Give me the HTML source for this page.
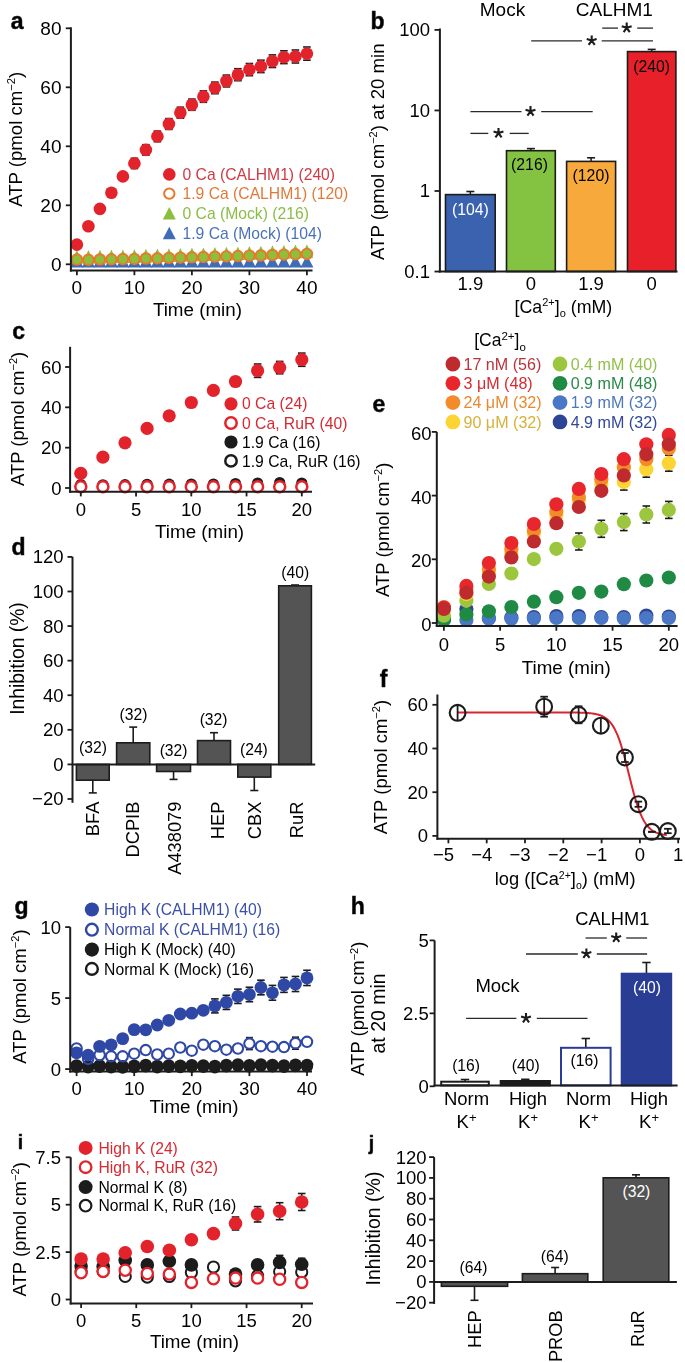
<!DOCTYPE html>
<html><head><meta charset="utf-8"><style>
html,body{margin:0;padding:0;background:#fff;}
svg{display:block;}
text{font-family:"Liberation Sans",sans-serif;}
</style></head><body>
<svg width="685" height="1362" viewBox="0 0 685 1362">
<rect width="685" height="1362" fill="#fff"/>
<g opacity="0.999">
<g id="pa">
<text x="10.8" y="28.8" font-size="23" font-weight="bold" stroke="#1c1c1c" stroke-width="0.5">a</text>
<path d="M70.4 267.4L83.4 267.4L76.9 254.9Z" fill="#3f6cb7"/>
<path d="M81.9 267.4L94.9 267.4L88.4 254.9Z" fill="#3f6cb7"/>
<path d="M93.4 267.4L106.4 267.4L99.9 254.9Z" fill="#3f6cb7"/>
<path d="M104.9 267.4L117.9 267.4L111.4 254.9Z" fill="#3f6cb7"/>
<path d="M116.4 267.4L129.4 267.4L122.9 254.9Z" fill="#3f6cb7"/>
<path d="M127.9 267.4L140.9 267.4L134.4 254.9Z" fill="#3f6cb7"/>
<path d="M139.4 267.4L152.4 267.4L145.9 254.9Z" fill="#3f6cb7"/>
<path d="M150.9 267.4L163.9 267.4L157.4 254.9Z" fill="#3f6cb7"/>
<path d="M162.4 267.4L175.4 267.4L168.9 254.9Z" fill="#3f6cb7"/>
<path d="M173.9 267.4L186.9 267.4L180.4 254.9Z" fill="#3f6cb7"/>
<path d="M185.4 267.4L198.4 267.4L191.9 254.9Z" fill="#3f6cb7"/>
<path d="M196.9 267.4L209.9 267.4L203.4 254.9Z" fill="#3f6cb7"/>
<path d="M208.4 267.4L221.4 267.4L214.9 254.9Z" fill="#3f6cb7"/>
<path d="M219.9 267.4L232.9 267.4L226.4 254.9Z" fill="#3f6cb7"/>
<path d="M231.4 267.4L244.4 267.4L237.9 254.9Z" fill="#3f6cb7"/>
<path d="M242.9 267.4L255.9 267.4L249.4 254.9Z" fill="#3f6cb7"/>
<path d="M254.4 267.4L267.4 267.4L260.9 254.9Z" fill="#3f6cb7"/>
<path d="M265.9 267.4L278.9 267.4L272.4 254.9Z" fill="#3f6cb7"/>
<path d="M277.4 267.4L290.4 267.4L283.9 254.9Z" fill="#3f6cb7"/>
<path d="M288.9 267.4L301.9 267.4L295.4 254.9Z" fill="#3f6cb7"/>
<path d="M300.4 267.4L313.4 267.4L306.9 254.9Z" fill="#3f6cb7"/>
<path d="M70.65 263.6L83.15 263.6L76.9 249.9Z" fill="#8dbf3b"/>
<path d="M82.15 263.8L94.65 263.8L88.4 250.1Z" fill="#8dbf3b"/>
<path d="M93.65 263.5L106.15 263.5L99.9 249.8Z" fill="#8dbf3b"/>
<path d="M105.15 263.3L117.65 263.3L111.4 249.6Z" fill="#8dbf3b"/>
<path d="M116.65 263.1L129.15 263.1L122.9 249.4Z" fill="#8dbf3b"/>
<path d="M128.15 262.9L140.65 262.9L134.4 249.2Z" fill="#8dbf3b"/>
<path d="M139.65 262.5L152.15 262.5L145.9 248.8Z" fill="#8dbf3b"/>
<path d="M151.15 262.3L163.65 262.3L157.4 248.6Z" fill="#8dbf3b"/>
<path d="M162.65 261.9L175.15 261.9L168.9 248.2Z" fill="#8dbf3b"/>
<path d="M174.15 261.7L186.65 261.7L180.4 248Z" fill="#8dbf3b"/>
<path d="M185.65 261.3L198.15 261.3L191.9 247.6Z" fill="#8dbf3b"/>
<path d="M197.15 261.1L209.65 261.1L203.4 247.4Z" fill="#8dbf3b"/>
<path d="M208.65 260.7L221.15 260.7L214.9 247Z" fill="#8dbf3b"/>
<path d="M220.15 260.4L232.65 260.4L226.4 246.7Z" fill="#8dbf3b"/>
<path d="M231.65 260.1L244.15 260.1L237.9 246.4Z" fill="#8dbf3b"/>
<path d="M243.15 259.7L255.65 259.7L249.4 246Z" fill="#8dbf3b"/>
<path d="M254.65 259.5L267.15 259.5L260.9 245.8Z" fill="#8dbf3b"/>
<path d="M266.15 259L278.65 259L272.4 245.3Z" fill="#8dbf3b"/>
<path d="M277.65 258.7L290.15 258.7L283.9 245Z" fill="#8dbf3b"/>
<path d="M289.15 258.3L301.65 258.3L295.4 244.6Z" fill="#8dbf3b"/>
<path d="M300.65 257.9L313.15 257.9L306.9 244.2Z" fill="#8dbf3b"/>
<circle cx="76.9" cy="259.6" r="5.3" fill="#8dbf3b" stroke="#e8782c" stroke-width="1.9"/>
<circle cx="88.4" cy="259.8" r="5.3" fill="#8dbf3b" stroke="#e8782c" stroke-width="1.9"/>
<circle cx="99.9" cy="259.5" r="5.3" fill="#8dbf3b" stroke="#e8782c" stroke-width="1.9"/>
<circle cx="111.4" cy="259.3" r="5.3" fill="#8dbf3b" stroke="#e8782c" stroke-width="1.9"/>
<circle cx="122.9" cy="259.1" r="5.3" fill="#8dbf3b" stroke="#e8782c" stroke-width="1.9"/>
<circle cx="134.4" cy="258.9" r="5.3" fill="#8dbf3b" stroke="#e8782c" stroke-width="1.9"/>
<circle cx="145.9" cy="258.5" r="5.3" fill="#8dbf3b" stroke="#e8782c" stroke-width="1.9"/>
<circle cx="157.4" cy="258.3" r="5.3" fill="#8dbf3b" stroke="#e8782c" stroke-width="1.9"/>
<circle cx="168.9" cy="257.9" r="5.3" fill="#8dbf3b" stroke="#e8782c" stroke-width="1.9"/>
<circle cx="180.4" cy="257.7" r="5.3" fill="#8dbf3b" stroke="#e8782c" stroke-width="1.9"/>
<circle cx="191.9" cy="257.3" r="5.3" fill="#8dbf3b" stroke="#e8782c" stroke-width="1.9"/>
<circle cx="203.4" cy="257.1" r="5.3" fill="#8dbf3b" stroke="#e8782c" stroke-width="1.9"/>
<circle cx="214.9" cy="256.7" r="5.3" fill="#8dbf3b" stroke="#e8782c" stroke-width="1.9"/>
<circle cx="226.4" cy="256.4" r="5.3" fill="#8dbf3b" stroke="#e8782c" stroke-width="1.9"/>
<circle cx="237.9" cy="256.1" r="5.3" fill="#8dbf3b" stroke="#e8782c" stroke-width="1.9"/>
<circle cx="249.4" cy="255.7" r="5.3" fill="#8dbf3b" stroke="#e8782c" stroke-width="1.9"/>
<circle cx="260.9" cy="255.5" r="5.3" fill="#8dbf3b" stroke="#e8782c" stroke-width="1.9"/>
<circle cx="272.4" cy="255" r="5.3" fill="#8dbf3b" stroke="#e8782c" stroke-width="1.9"/>
<circle cx="283.9" cy="254.7" r="5.3" fill="#8dbf3b" stroke="#e8782c" stroke-width="1.9"/>
<circle cx="295.4" cy="254.3" r="5.3" fill="#8dbf3b" stroke="#e8782c" stroke-width="1.9"/>
<circle cx="306.9" cy="253.9" r="5.3" fill="#8dbf3b" stroke="#e8782c" stroke-width="1.9"/>
<line x1="130.6" y1="158.3" x2="138.2" y2="158.3" stroke="#1c1c1c" stroke-width="1.6"/>
<line x1="130.6" y1="168.5" x2="138.2" y2="168.5" stroke="#1c1c1c" stroke-width="1.6"/>
<line x1="142.1" y1="144.7" x2="149.7" y2="144.7" stroke="#1c1c1c" stroke-width="1.6"/>
<line x1="142.1" y1="155.1" x2="149.7" y2="155.1" stroke="#1c1c1c" stroke-width="1.6"/>
<line x1="153.6" y1="131.1" x2="161.2" y2="131.1" stroke="#1c1c1c" stroke-width="1.6"/>
<line x1="153.6" y1="141.7" x2="161.2" y2="141.7" stroke="#1c1c1c" stroke-width="1.6"/>
<line x1="165.1" y1="118.6" x2="172.7" y2="118.6" stroke="#1c1c1c" stroke-width="1.6"/>
<line x1="165.1" y1="129.4" x2="172.7" y2="129.4" stroke="#1c1c1c" stroke-width="1.6"/>
<line x1="176.6" y1="107.2" x2="184.2" y2="107.2" stroke="#1c1c1c" stroke-width="1.6"/>
<line x1="176.6" y1="118.2" x2="184.2" y2="118.2" stroke="#1c1c1c" stroke-width="1.6"/>
<line x1="188.1" y1="99.1" x2="195.7" y2="99.1" stroke="#1c1c1c" stroke-width="1.6"/>
<line x1="188.1" y1="110.3" x2="195.7" y2="110.3" stroke="#1c1c1c" stroke-width="1.6"/>
<line x1="199.6" y1="90.9" x2="207.2" y2="90.9" stroke="#1c1c1c" stroke-width="1.6"/>
<line x1="199.6" y1="102.3" x2="207.2" y2="102.3" stroke="#1c1c1c" stroke-width="1.6"/>
<line x1="211.1" y1="82.1" x2="218.7" y2="82.1" stroke="#1c1c1c" stroke-width="1.6"/>
<line x1="211.1" y1="93.7" x2="218.7" y2="93.7" stroke="#1c1c1c" stroke-width="1.6"/>
<line x1="222.6" y1="75.1" x2="230.2" y2="75.1" stroke="#1c1c1c" stroke-width="1.6"/>
<line x1="222.6" y1="86.9" x2="230.2" y2="86.9" stroke="#1c1c1c" stroke-width="1.6"/>
<line x1="234.1" y1="68.7" x2="241.7" y2="68.7" stroke="#1c1c1c" stroke-width="1.6"/>
<line x1="234.1" y1="80.7" x2="241.7" y2="80.7" stroke="#1c1c1c" stroke-width="1.6"/>
<line x1="245.6" y1="63.5" x2="253.2" y2="63.5" stroke="#1c1c1c" stroke-width="1.6"/>
<line x1="245.6" y1="75.7" x2="253.2" y2="75.7" stroke="#1c1c1c" stroke-width="1.6"/>
<line x1="257.1" y1="60.2" x2="264.7" y2="60.2" stroke="#1c1c1c" stroke-width="1.6"/>
<line x1="257.1" y1="72.6" x2="264.7" y2="72.6" stroke="#1c1c1c" stroke-width="1.6"/>
<line x1="268.6" y1="54.9" x2="276.2" y2="54.9" stroke="#1c1c1c" stroke-width="1.6"/>
<line x1="268.6" y1="67.5" x2="276.2" y2="67.5" stroke="#1c1c1c" stroke-width="1.6"/>
<line x1="280.1" y1="50.8" x2="287.7" y2="50.8" stroke="#1c1c1c" stroke-width="1.6"/>
<line x1="280.1" y1="63.6" x2="287.7" y2="63.6" stroke="#1c1c1c" stroke-width="1.6"/>
<line x1="291.6" y1="50" x2="299.2" y2="50" stroke="#1c1c1c" stroke-width="1.6"/>
<line x1="291.6" y1="63" x2="299.2" y2="63" stroke="#1c1c1c" stroke-width="1.6"/>
<line x1="303.1" y1="47" x2="310.7" y2="47" stroke="#1c1c1c" stroke-width="1.6"/>
<line x1="303.1" y1="60.2" x2="310.7" y2="60.2" stroke="#1c1c1c" stroke-width="1.6"/>
<circle cx="76.9" cy="244.6" r="6.3" fill="#e2232b"/>
<circle cx="88.4" cy="226.3" r="6.3" fill="#e2232b"/>
<circle cx="99.9" cy="208.9" r="6.3" fill="#e2232b"/>
<circle cx="111.4" cy="192.8" r="6.3" fill="#e2232b"/>
<circle cx="122.9" cy="176.4" r="6.3" fill="#e2232b"/>
<circle cx="134.4" cy="163.4" r="6.3" fill="#e2232b"/>
<circle cx="145.9" cy="149.9" r="6.3" fill="#e2232b"/>
<circle cx="157.4" cy="136.4" r="6.3" fill="#e2232b"/>
<circle cx="168.9" cy="124" r="6.3" fill="#e2232b"/>
<circle cx="180.4" cy="112.7" r="6.3" fill="#e2232b"/>
<circle cx="191.9" cy="104.7" r="6.3" fill="#e2232b"/>
<circle cx="203.4" cy="96.6" r="6.3" fill="#e2232b"/>
<circle cx="214.9" cy="87.9" r="6.3" fill="#e2232b"/>
<circle cx="226.4" cy="81" r="6.3" fill="#e2232b"/>
<circle cx="237.9" cy="74.7" r="6.3" fill="#e2232b"/>
<circle cx="249.4" cy="69.6" r="6.3" fill="#e2232b"/>
<circle cx="260.9" cy="66.4" r="6.3" fill="#e2232b"/>
<circle cx="272.4" cy="61.2" r="6.3" fill="#e2232b"/>
<circle cx="283.9" cy="57.2" r="6.3" fill="#e2232b"/>
<circle cx="295.4" cy="56.5" r="6.3" fill="#e2232b"/>
<circle cx="306.9" cy="53.6" r="6.3" fill="#e2232b"/>
<line x1="70.9" y1="27.3" x2="70.9" y2="271.6" stroke="#1c1c1c" stroke-width="2"/>
<line x1="69.9" y1="270.6" x2="312.5" y2="270.6" stroke="#1c1c1c" stroke-width="2"/>
<line x1="65.8" y1="264.3" x2="70.9" y2="264.3" stroke="#1c1c1c" stroke-width="1.8"/>
<text x="61.5" y="271" font-size="19" text-anchor="end">0</text>
<line x1="65.8" y1="205.3" x2="70.9" y2="205.3" stroke="#1c1c1c" stroke-width="1.8"/>
<text x="61.5" y="212" font-size="19" text-anchor="end">20</text>
<line x1="65.8" y1="146.3" x2="70.9" y2="146.3" stroke="#1c1c1c" stroke-width="1.8"/>
<text x="61.5" y="153" font-size="19" text-anchor="end">40</text>
<line x1="65.8" y1="87.3" x2="70.9" y2="87.3" stroke="#1c1c1c" stroke-width="1.8"/>
<text x="61.5" y="94" font-size="19" text-anchor="end">60</text>
<line x1="65.8" y1="28.3" x2="70.9" y2="28.3" stroke="#1c1c1c" stroke-width="1.8"/>
<text x="61.5" y="35" font-size="19" text-anchor="end">80</text>
<line x1="76.9" y1="270.6" x2="76.9" y2="275.2" stroke="#1c1c1c" stroke-width="1.8"/>
<text x="76.9" y="293.5" font-size="19" text-anchor="middle">0</text>
<line x1="134.4" y1="270.6" x2="134.4" y2="275.2" stroke="#1c1c1c" stroke-width="1.8"/>
<text x="134.4" y="293.5" font-size="19" text-anchor="middle">10</text>
<line x1="191.9" y1="270.6" x2="191.9" y2="275.2" stroke="#1c1c1c" stroke-width="1.8"/>
<text x="191.9" y="293.5" font-size="19" text-anchor="middle">20</text>
<line x1="249.4" y1="270.6" x2="249.4" y2="275.2" stroke="#1c1c1c" stroke-width="1.8"/>
<text x="249.4" y="293.5" font-size="19" text-anchor="middle">30</text>
<line x1="306.9" y1="270.6" x2="306.9" y2="275.2" stroke="#1c1c1c" stroke-width="1.8"/>
<text x="306.9" y="293.5" font-size="19" text-anchor="middle">40</text>
<text x="197.4" y="316.2" font-size="18.8" text-anchor="middle">Time (min)</text>
<text x="22.2" y="139.3" font-size="18.6" text-anchor="middle" transform="rotate(-90 22.2 139.3)">ATP (pmol cm<tspan font-size="11.16" dy="-6.7">−2</tspan><tspan dy="6.7">)</tspan></text>
<circle cx="169.3" cy="174.4" r="6.3" fill="#e2232b"/>
<text x="182.5" y="180" font-size="15.7" fill="#d03a45">0 Ca (CALHM1) (240)</text>
<circle cx="169.3" cy="193.6" r="5.2" fill="#fff" stroke="#e8782c" stroke-width="2"/>
<text x="182.5" y="199.2" font-size="15.7" fill="#e07a3a">1.9 Ca (CALHM1) (120)</text>
<path d="M162.8 219.4L175.8 219.4L169.3 206.9Z" fill="#8dbf3b"/>
<text x="182.5" y="219" font-size="15.7" fill="#8cbc46">0 Ca (Mock) (216)</text>
<path d="M162.8 239.2L175.8 239.2L169.3 226.7Z" fill="#3f6cb7"/>
<text x="182.5" y="238.8" font-size="15.7" fill="#4a72b8">1.9 Ca (Mock) (104)</text>
</g>
<g id="pb">
<text x="370.5" y="28.8" font-size="23" font-weight="bold" stroke="#1c1c1c" stroke-width="0.5">b</text>
<line x1="470.35" y1="191.5" x2="470.35" y2="194.6" stroke="#1c1c1c" stroke-width="1.5"/>
<line x1="466.35" y1="191.5" x2="474.35" y2="191.5" stroke="#1c1c1c" stroke-width="1.6"/>
<rect x="445.5" y="194.6" width="49.7" height="76.9" fill="#3b62ae" stroke="#1c1c1c" stroke-width="1.6"/>
<line x1="530.9" y1="148.6" x2="530.9" y2="150.7" stroke="#1c1c1c" stroke-width="1.5"/>
<line x1="526.9" y1="148.6" x2="534.9" y2="148.6" stroke="#1c1c1c" stroke-width="1.6"/>
<rect x="506.5" y="150.7" width="48.8" height="120.8" fill="#84c341" stroke="#1c1c1c" stroke-width="1.6"/>
<line x1="591.1" y1="157.8" x2="591.1" y2="161.4" stroke="#1c1c1c" stroke-width="1.5"/>
<line x1="587.1" y1="157.8" x2="595.1" y2="157.8" stroke="#1c1c1c" stroke-width="1.6"/>
<rect x="566.6" y="161.4" width="49" height="110.1" fill="#f7a93b" stroke="#1c1c1c" stroke-width="1.6"/>
<line x1="651.7" y1="49.4" x2="651.7" y2="51.6" stroke="#1c1c1c" stroke-width="1.5"/>
<line x1="647.7" y1="49.4" x2="655.7" y2="49.4" stroke="#1c1c1c" stroke-width="1.6"/>
<rect x="627.5" y="51.6" width="48.4" height="219.9" fill="#e8202a" stroke="#1c1c1c" stroke-width="1.6"/>
<text x="470.4" y="214.9" font-size="15.8" text-anchor="middle" fill="#fff">(104)</text>
<text x="529.5" y="169.8" font-size="15.8" text-anchor="middle">(216)</text>
<text x="591" y="181" font-size="15.8" text-anchor="middle">(120)</text>
<text x="651.6" y="71.5" font-size="15.8" text-anchor="middle">(240)</text>
<line x1="439.9" y1="28.5" x2="439.9" y2="272.5" stroke="#1c1c1c" stroke-width="2"/>
<line x1="438.9" y1="271.5" x2="677.5" y2="271.5" stroke="#1c1c1c" stroke-width="2"/>
<line x1="434.5" y1="29.9" x2="439.9" y2="29.9" stroke="#1c1c1c" stroke-width="1.8"/>
<text x="430" y="36.3" font-size="18.5" text-anchor="end">100</text>
<line x1="434.5" y1="110.45" x2="439.9" y2="110.45" stroke="#1c1c1c" stroke-width="1.8"/>
<text x="430" y="116.85" font-size="18.5" text-anchor="end">10</text>
<line x1="434.5" y1="191" x2="439.9" y2="191" stroke="#1c1c1c" stroke-width="1.8"/>
<text x="430" y="197.4" font-size="18.5" text-anchor="end">1</text>
<line x1="434.5" y1="271.55" x2="439.9" y2="271.55" stroke="#1c1c1c" stroke-width="1.8"/>
<text x="430" y="277.95" font-size="18.5" text-anchor="end">0.1</text>
<text x="470.4" y="290.4" font-size="18.5" text-anchor="middle">1.9</text>
<text x="530.9" y="290.4" font-size="18.5" text-anchor="middle">0</text>
<text x="591" y="290.4" font-size="18.5" text-anchor="middle">1.9</text>
<text x="651.6" y="290.4" font-size="18.5" text-anchor="middle">0</text>
<text x="514.5" y="312.7" font-size="17.8">[Ca<tspan font-size="11" dy="-7">2+</tspan><tspan dy="7">]</tspan><tspan font-size="11" dy="4">o</tspan><tspan dy="-4"> (mM)</tspan></text>
<text x="383.9" y="151.7" font-size="18.6" text-anchor="middle" transform="rotate(-90 383.9 151.7)">ATP (pmol cm<tspan font-size="11" dy="-6.5">−2</tspan><tspan dy="6.5">) at 20 min</tspan></text>
<text x="502.5" y="16.1" font-size="19" text-anchor="middle">Mock</text>
<text x="614.3" y="16.1" font-size="19" text-anchor="middle">CALHM1</text>
<line x1="602.2" y1="28.1" x2="618" y2="28.1" stroke="#2a2a2a" stroke-width="1.3"/>
<line x1="637.2" y1="28.1" x2="653" y2="28.1" stroke="#2a2a2a" stroke-width="1.3"/>
<path d="M626.7 27.8L626.7 22.6M626.7 27.8L631.65 26.19M626.7 27.8L629.76 32.01M626.7 27.8L623.64 32.01M626.7 27.8L621.75 26.19" stroke="#1c1c1c" stroke-width="2.1" fill="none" stroke-linecap="butt"/>
<line x1="531.2" y1="40.9" x2="582" y2="40.9" stroke="#2a2a2a" stroke-width="1.3"/>
<line x1="601.7" y1="40.9" x2="653" y2="40.9" stroke="#2a2a2a" stroke-width="1.3"/>
<path d="M591.7 40.6L591.7 35.4M591.7 40.6L596.65 38.99M591.7 40.6L594.76 44.81M591.7 40.6L588.64 44.81M591.7 40.6L586.75 38.99" stroke="#1c1c1c" stroke-width="2.1" fill="none" stroke-linecap="butt"/>
<line x1="470.4" y1="111.6" x2="521.5" y2="111.6" stroke="#2a2a2a" stroke-width="1.3"/>
<line x1="541.2" y1="111.6" x2="592.7" y2="111.6" stroke="#2a2a2a" stroke-width="1.3"/>
<path d="M530.5 111.3L530.5 106.1M530.5 111.3L535.45 109.69M530.5 111.3L533.56 115.51M530.5 111.3L527.44 115.51M530.5 111.3L525.55 109.69" stroke="#1c1c1c" stroke-width="2.1" fill="none" stroke-linecap="butt"/>
<line x1="470.4" y1="133.4" x2="488.3" y2="133.4" stroke="#2a2a2a" stroke-width="1.3"/>
<line x1="509.7" y1="133.4" x2="528.7" y2="133.4" stroke="#2a2a2a" stroke-width="1.3"/>
<path d="M498.5 133.1L498.5 127.9M498.5 133.1L503.45 131.49M498.5 133.1L501.56 137.31M498.5 133.1L495.44 137.31M498.5 133.1L493.55 131.49" stroke="#1c1c1c" stroke-width="2.1" fill="none" stroke-linecap="butt"/>
</g>
<g id="pc">
<text x="12.3" y="338.9" font-size="23" font-weight="bold" stroke="#1c1c1c" stroke-width="0.5">c</text>
<circle cx="80.8" cy="484.5" r="5.6" fill="#1c1c1c"/>
<circle cx="102.9" cy="484.8" r="5.6" fill="#1c1c1c"/>
<circle cx="125" cy="484.6" r="5.6" fill="#1c1c1c"/>
<circle cx="147.1" cy="484.3" r="5.6" fill="#1c1c1c"/>
<circle cx="169.2" cy="484.2" r="5.6" fill="#1c1c1c"/>
<circle cx="191.3" cy="484" r="5.6" fill="#1c1c1c"/>
<circle cx="213.4" cy="484" r="5.6" fill="#1c1c1c"/>
<circle cx="235.5" cy="483.5" r="5.6" fill="#1c1c1c"/>
<circle cx="257.6" cy="483" r="5.6" fill="#1c1c1c"/>
<circle cx="279.7" cy="482.5" r="5.6" fill="#1c1c1c"/>
<circle cx="301.8" cy="483" r="5.6" fill="#1c1c1c"/>
<circle cx="80.8" cy="486.7" r="5.5" fill="#fff" stroke="#e2232b" stroke-width="2.5"/>
<circle cx="102.9" cy="486.7" r="5.5" fill="#fff" stroke="#e2232b" stroke-width="2.5"/>
<circle cx="125" cy="486.7" r="5.5" fill="#fff" stroke="#e2232b" stroke-width="2.5"/>
<circle cx="147.1" cy="486.7" r="5.5" fill="#fff" stroke="#e2232b" stroke-width="2.5"/>
<circle cx="169.2" cy="486.7" r="5.5" fill="#fff" stroke="#e2232b" stroke-width="2.5"/>
<circle cx="191.3" cy="486.7" r="5.5" fill="#fff" stroke="#e2232b" stroke-width="2.5"/>
<circle cx="213.4" cy="486.7" r="5.5" fill="#fff" stroke="#e2232b" stroke-width="2.5"/>
<circle cx="235.5" cy="486.7" r="5.5" fill="#fff" stroke="#e2232b" stroke-width="2.5"/>
<circle cx="257.6" cy="486.7" r="5.5" fill="#fff" stroke="#e2232b" stroke-width="2.5"/>
<circle cx="279.7" cy="486.7" r="5.5" fill="#fff" stroke="#e2232b" stroke-width="2.5"/>
<circle cx="301.8" cy="486.7" r="5.5" fill="#fff" stroke="#e2232b" stroke-width="2.5"/>
<line x1="231.7" y1="377.5" x2="239.3" y2="377.5" stroke="#1c1c1c" stroke-width="1.6"/>
<line x1="231.7" y1="385.5" x2="239.3" y2="385.5" stroke="#1c1c1c" stroke-width="1.6"/>
<line x1="235.5" y1="377.5" x2="235.5" y2="385.5" stroke="#1c1c1c" stroke-width="1.6"/>
<line x1="253.8" y1="364" x2="261.4" y2="364" stroke="#1c1c1c" stroke-width="1.6"/>
<line x1="253.8" y1="377.4" x2="261.4" y2="377.4" stroke="#1c1c1c" stroke-width="1.6"/>
<line x1="257.6" y1="364" x2="257.6" y2="377.4" stroke="#1c1c1c" stroke-width="1.6"/>
<line x1="275.9" y1="361.4" x2="283.5" y2="361.4" stroke="#1c1c1c" stroke-width="1.6"/>
<line x1="275.9" y1="373.8" x2="283.5" y2="373.8" stroke="#1c1c1c" stroke-width="1.6"/>
<line x1="279.7" y1="361.4" x2="279.7" y2="373.8" stroke="#1c1c1c" stroke-width="1.6"/>
<line x1="298" y1="353.1" x2="305.6" y2="353.1" stroke="#1c1c1c" stroke-width="1.6"/>
<line x1="298" y1="366.3" x2="305.6" y2="366.3" stroke="#1c1c1c" stroke-width="1.6"/>
<line x1="301.8" y1="353.1" x2="301.8" y2="366.3" stroke="#1c1c1c" stroke-width="1.6"/>
<circle cx="80.8" cy="473.3" r="6.6" fill="#e2232b"/>
<circle cx="102.9" cy="457.2" r="6.6" fill="#e2232b"/>
<circle cx="125" cy="442.8" r="6.6" fill="#e2232b"/>
<circle cx="147.1" cy="428.4" r="6.6" fill="#e2232b"/>
<circle cx="169.2" cy="415.8" r="6.6" fill="#e2232b"/>
<circle cx="191.3" cy="402.5" r="6.6" fill="#e2232b"/>
<circle cx="213.4" cy="390.4" r="6.6" fill="#e2232b"/>
<circle cx="235.5" cy="381.5" r="6.6" fill="#e2232b"/>
<circle cx="257.6" cy="370.7" r="6.6" fill="#e2232b"/>
<circle cx="279.7" cy="367.6" r="6.6" fill="#e2232b"/>
<circle cx="301.8" cy="359.7" r="6.6" fill="#e2232b"/>
<line x1="70.1" y1="346.8" x2="70.1" y2="492.8" stroke="#1c1c1c" stroke-width="2"/>
<line x1="69.1" y1="491.8" x2="312" y2="491.8" stroke="#1c1c1c" stroke-width="2"/>
<line x1="65.1" y1="488" x2="70.1" y2="488" stroke="#1c1c1c" stroke-width="1.8"/>
<text x="61.5" y="494.5" font-size="18.5" text-anchor="end">0</text>
<line x1="65.1" y1="447.67" x2="70.1" y2="447.67" stroke="#1c1c1c" stroke-width="1.8"/>
<text x="61.5" y="454.17" font-size="18.5" text-anchor="end">20</text>
<line x1="65.1" y1="407.33" x2="70.1" y2="407.33" stroke="#1c1c1c" stroke-width="1.8"/>
<text x="61.5" y="413.83" font-size="18.5" text-anchor="end">40</text>
<line x1="65.1" y1="367" x2="70.1" y2="367" stroke="#1c1c1c" stroke-width="1.8"/>
<text x="61.5" y="373.5" font-size="18.5" text-anchor="end">60</text>
<line x1="80.8" y1="491.8" x2="80.8" y2="496.4" stroke="#1c1c1c" stroke-width="1.8"/>
<text x="80.8" y="516.3" font-size="18.5" text-anchor="middle">0</text>
<line x1="136.05" y1="491.8" x2="136.05" y2="496.4" stroke="#1c1c1c" stroke-width="1.8"/>
<text x="136.05" y="516.3" font-size="18.5" text-anchor="middle">5</text>
<line x1="191.3" y1="491.8" x2="191.3" y2="496.4" stroke="#1c1c1c" stroke-width="1.8"/>
<text x="191.3" y="516.3" font-size="18.5" text-anchor="middle">10</text>
<line x1="246.55" y1="491.8" x2="246.55" y2="496.4" stroke="#1c1c1c" stroke-width="1.8"/>
<text x="246.55" y="516.3" font-size="18.5" text-anchor="middle">15</text>
<line x1="301.8" y1="491.8" x2="301.8" y2="496.4" stroke="#1c1c1c" stroke-width="1.8"/>
<text x="301.8" y="516.3" font-size="18.5" text-anchor="middle">20</text>
<text x="199.6" y="537.5" font-size="18.8" text-anchor="middle">Time (min)</text>
<text x="24" y="418.9" font-size="18.5" text-anchor="middle" transform="rotate(-90 24 418.9)">ATP (pmol cm<tspan font-size="11.1" dy="-6.66">−2</tspan><tspan dy="6.66">)</tspan></text>
<circle cx="231" cy="403.8" r="6.6" fill="#e2232b"/>
<text x="242" y="409.4" font-size="15.7" fill="#d62a33">0 Ca (24)</text>
<circle cx="231" cy="423" r="5.7" fill="#fff" stroke="#e2232b" stroke-width="2.5"/>
<text x="242" y="428.6" font-size="15.7" fill="#d62a33">0 Ca, RuR (40)</text>
<circle cx="231" cy="442" r="6.6" fill="#1c1c1c"/>
<text x="242" y="447.6" font-size="15.7">1.9 Ca (16)</text>
<circle cx="231" cy="460.9" r="5.7" fill="#fff" stroke="#1c1c1c" stroke-width="2.5"/>
<text x="242" y="466.5" font-size="15.7">1.9 Ca, RuR (16)</text>
</g>
<g id="pd">
<text x="11.5" y="555.4" font-size="23" font-weight="bold" stroke="#1c1c1c" stroke-width="0.5">d</text>
<line x1="92.8" y1="780.2" x2="92.8" y2="792.9" stroke="#1c1c1c" stroke-width="1.6"/>
<line x1="88.8" y1="792.9" x2="96.8" y2="792.9" stroke="#1c1c1c" stroke-width="1.6"/>
<rect x="76.4" y="764.4" width="32.8" height="15.8" fill="#545454" stroke="#1c1c1c" stroke-width="1.6"/>
<text x="93" y="753.2" font-size="15.7" text-anchor="middle">(32)</text>
<text x="99.1" y="801.6" font-size="18.3" text-anchor="end" transform="rotate(-90 99.1 801.6)">BFA</text>
<line x1="133.2" y1="742.8" x2="133.2" y2="727.1" stroke="#1c1c1c" stroke-width="1.6"/>
<line x1="129.2" y1="727.1" x2="137.2" y2="727.1" stroke="#1c1c1c" stroke-width="1.6"/>
<rect x="116.6" y="742.8" width="33.2" height="21.6" fill="#545454" stroke="#1c1c1c" stroke-width="1.6"/>
<text x="133.5" y="719.7" font-size="15.7" text-anchor="middle">(32)</text>
<text x="139.5" y="801.6" font-size="18.3" text-anchor="end" transform="rotate(-90 139.5 801.6)">DCPIB</text>
<line x1="173.55" y1="771.5" x2="173.55" y2="779.4" stroke="#1c1c1c" stroke-width="1.6"/>
<line x1="169.55" y1="779.4" x2="177.55" y2="779.4" stroke="#1c1c1c" stroke-width="1.6"/>
<rect x="156.6" y="764.4" width="33.9" height="7.1" fill="#545454" stroke="#1c1c1c" stroke-width="1.6"/>
<text x="173.6" y="755.5" font-size="15.7" text-anchor="middle">(32)</text>
<text x="180.95" y="801.6" font-size="18.3" text-anchor="end" transform="rotate(-90 180.95 801.6)">A438079</text>
<line x1="214" y1="740.6" x2="214" y2="732.7" stroke="#1c1c1c" stroke-width="1.6"/>
<line x1="210" y1="732.7" x2="218" y2="732.7" stroke="#1c1c1c" stroke-width="1.6"/>
<rect x="197.5" y="740.6" width="33" height="23.8" fill="#545454" stroke="#1c1c1c" stroke-width="1.6"/>
<text x="213.6" y="724.8" font-size="15.7" text-anchor="middle">(32)</text>
<text x="223.6" y="801.6" font-size="18.3" text-anchor="end" transform="rotate(-90 223.6 801.6)">HEP</text>
<line x1="254.3" y1="777.1" x2="254.3" y2="790.5" stroke="#1c1c1c" stroke-width="1.6"/>
<line x1="250.3" y1="790.5" x2="258.3" y2="790.5" stroke="#1c1c1c" stroke-width="1.6"/>
<rect x="237.8" y="764.4" width="33" height="12.7" fill="#545454" stroke="#1c1c1c" stroke-width="1.6"/>
<text x="253.9" y="755.2" font-size="15.7" text-anchor="middle">(24)</text>
<text x="260.6" y="801.6" font-size="18.3" text-anchor="end" transform="rotate(-90 260.6 801.6)">CBX</text>
<line x1="295.05" y1="585.8" x2="295.05" y2="585" stroke="#1c1c1c" stroke-width="1.6"/>
<line x1="291.05" y1="585" x2="299.05" y2="585" stroke="#1c1c1c" stroke-width="1.6"/>
<rect x="278.7" y="585.8" width="32.7" height="178.6" fill="#545454" stroke="#1c1c1c" stroke-width="1.6"/>
<text x="295.3" y="578" font-size="15.7" text-anchor="middle">(40)</text>
<text x="302.85" y="801.6" font-size="18.3" text-anchor="end" transform="rotate(-90 302.85 801.6)">RuR</text>
<line x1="72.5" y1="556.9" x2="72.5" y2="802.8" stroke="#1c1c1c" stroke-width="2"/>
<line x1="72.5" y1="764.4" x2="315.2" y2="764.4" stroke="#1c1c1c" stroke-width="2"/>
<line x1="67.5" y1="798.98" x2="72.5" y2="798.98" stroke="#1c1c1c" stroke-width="1.8"/>
<text x="63.5" y="805.48" font-size="18.5" text-anchor="end">−20</text>
<line x1="67.5" y1="764.4" x2="72.5" y2="764.4" stroke="#1c1c1c" stroke-width="1.8"/>
<text x="63.5" y="770.9" font-size="18.5" text-anchor="end">0</text>
<line x1="67.5" y1="729.82" x2="72.5" y2="729.82" stroke="#1c1c1c" stroke-width="1.8"/>
<text x="63.5" y="736.32" font-size="18.5" text-anchor="end">20</text>
<line x1="67.5" y1="695.23" x2="72.5" y2="695.23" stroke="#1c1c1c" stroke-width="1.8"/>
<text x="63.5" y="701.73" font-size="18.5" text-anchor="end">40</text>
<line x1="67.5" y1="660.65" x2="72.5" y2="660.65" stroke="#1c1c1c" stroke-width="1.8"/>
<text x="63.5" y="667.15" font-size="18.5" text-anchor="end">60</text>
<line x1="67.5" y1="626.06" x2="72.5" y2="626.06" stroke="#1c1c1c" stroke-width="1.8"/>
<text x="63.5" y="632.56" font-size="18.5" text-anchor="end">80</text>
<line x1="67.5" y1="591.48" x2="72.5" y2="591.48" stroke="#1c1c1c" stroke-width="1.8"/>
<text x="63.5" y="597.98" font-size="18.5" text-anchor="end">100</text>
<line x1="67.5" y1="556.9" x2="72.5" y2="556.9" stroke="#1c1c1c" stroke-width="1.8"/>
<text x="63.5" y="563.4" font-size="18.5" text-anchor="end">120</text>
<text x="24.2" y="658.5" font-size="19.3" text-anchor="middle" transform="rotate(-90 24.2 658.5)">Inhibition (%)</text>
</g>
<g id="pe">
<text x="372.5" y="411.8" font-size="23" font-weight="bold" stroke="#1c1c1c" stroke-width="0.5">e</text>
<line x1="533.86" y1="521.3" x2="533.86" y2="526.7" stroke="#1c1c1c" stroke-width="1.5"/>
<line x1="530.06" y1="521.3" x2="537.66" y2="521.3" stroke="#1c1c1c" stroke-width="1.6"/>
<line x1="530.06" y1="526.7" x2="537.66" y2="526.7" stroke="#1c1c1c" stroke-width="1.6"/>
<line x1="533.86" y1="528.2" x2="533.86" y2="537.8" stroke="#1c1c1c" stroke-width="1.5"/>
<line x1="530.06" y1="528.2" x2="537.66" y2="528.2" stroke="#1c1c1c" stroke-width="1.6"/>
<line x1="530.06" y1="537.8" x2="537.66" y2="537.8" stroke="#1c1c1c" stroke-width="1.6"/>
<line x1="533.86" y1="539.1" x2="533.86" y2="543.9" stroke="#1c1c1c" stroke-width="1.5"/>
<line x1="530.06" y1="539.1" x2="537.66" y2="539.1" stroke="#1c1c1c" stroke-width="1.6"/>
<line x1="530.06" y1="543.9" x2="537.66" y2="543.9" stroke="#1c1c1c" stroke-width="1.6"/>
<line x1="556.35" y1="501.6" x2="556.35" y2="507" stroke="#1c1c1c" stroke-width="1.5"/>
<line x1="552.55" y1="501.6" x2="560.15" y2="501.6" stroke="#1c1c1c" stroke-width="1.6"/>
<line x1="552.55" y1="507" x2="560.15" y2="507" stroke="#1c1c1c" stroke-width="1.6"/>
<line x1="556.35" y1="510.2" x2="556.35" y2="519.8" stroke="#1c1c1c" stroke-width="1.5"/>
<line x1="552.55" y1="510.2" x2="560.15" y2="510.2" stroke="#1c1c1c" stroke-width="1.6"/>
<line x1="552.55" y1="519.8" x2="560.15" y2="519.8" stroke="#1c1c1c" stroke-width="1.6"/>
<line x1="556.35" y1="520.8" x2="556.35" y2="525.6" stroke="#1c1c1c" stroke-width="1.5"/>
<line x1="552.55" y1="520.8" x2="560.15" y2="520.8" stroke="#1c1c1c" stroke-width="1.6"/>
<line x1="552.55" y1="525.6" x2="560.15" y2="525.6" stroke="#1c1c1c" stroke-width="1.6"/>
<line x1="578.84" y1="484.4" x2="578.84" y2="493.4" stroke="#1c1c1c" stroke-width="1.5"/>
<line x1="575.04" y1="484.4" x2="582.64" y2="484.4" stroke="#1c1c1c" stroke-width="1.6"/>
<line x1="575.04" y1="493.4" x2="582.64" y2="493.4" stroke="#1c1c1c" stroke-width="1.6"/>
<line x1="578.84" y1="492" x2="578.84" y2="508" stroke="#1c1c1c" stroke-width="1.5"/>
<line x1="575.04" y1="492" x2="582.64" y2="492" stroke="#1c1c1c" stroke-width="1.6"/>
<line x1="575.04" y1="508" x2="582.64" y2="508" stroke="#1c1c1c" stroke-width="1.6"/>
<line x1="578.84" y1="533" x2="578.84" y2="550" stroke="#1c1c1c" stroke-width="1.5"/>
<line x1="575.04" y1="533" x2="582.64" y2="533" stroke="#1c1c1c" stroke-width="1.6"/>
<line x1="575.04" y1="550" x2="582.64" y2="550" stroke="#1c1c1c" stroke-width="1.6"/>
<line x1="578.84" y1="503" x2="578.84" y2="511" stroke="#1c1c1c" stroke-width="1.5"/>
<line x1="575.04" y1="503" x2="582.64" y2="503" stroke="#1c1c1c" stroke-width="1.6"/>
<line x1="575.04" y1="511" x2="582.64" y2="511" stroke="#1c1c1c" stroke-width="1.6"/>
<line x1="601.33" y1="469.5" x2="601.33" y2="478.5" stroke="#1c1c1c" stroke-width="1.5"/>
<line x1="597.53" y1="469.5" x2="605.13" y2="469.5" stroke="#1c1c1c" stroke-width="1.6"/>
<line x1="597.53" y1="478.5" x2="605.13" y2="478.5" stroke="#1c1c1c" stroke-width="1.6"/>
<line x1="601.33" y1="476" x2="601.33" y2="492" stroke="#1c1c1c" stroke-width="1.5"/>
<line x1="597.53" y1="476" x2="605.13" y2="476" stroke="#1c1c1c" stroke-width="1.6"/>
<line x1="597.53" y1="492" x2="605.13" y2="492" stroke="#1c1c1c" stroke-width="1.6"/>
<line x1="601.33" y1="520.3" x2="601.33" y2="537.3" stroke="#1c1c1c" stroke-width="1.5"/>
<line x1="597.53" y1="520.3" x2="605.13" y2="520.3" stroke="#1c1c1c" stroke-width="1.6"/>
<line x1="597.53" y1="537.3" x2="605.13" y2="537.3" stroke="#1c1c1c" stroke-width="1.6"/>
<line x1="601.33" y1="486.8" x2="601.33" y2="494.8" stroke="#1c1c1c" stroke-width="1.5"/>
<line x1="597.53" y1="486.8" x2="605.13" y2="486.8" stroke="#1c1c1c" stroke-width="1.6"/>
<line x1="597.53" y1="494.8" x2="605.13" y2="494.8" stroke="#1c1c1c" stroke-width="1.6"/>
<line x1="623.82" y1="454.7" x2="623.82" y2="463.7" stroke="#1c1c1c" stroke-width="1.5"/>
<line x1="620.02" y1="454.7" x2="627.62" y2="454.7" stroke="#1c1c1c" stroke-width="1.6"/>
<line x1="620.02" y1="463.7" x2="627.62" y2="463.7" stroke="#1c1c1c" stroke-width="1.6"/>
<line x1="623.82" y1="474.1" x2="623.82" y2="490.1" stroke="#1c1c1c" stroke-width="1.5"/>
<line x1="620.02" y1="474.1" x2="627.62" y2="474.1" stroke="#1c1c1c" stroke-width="1.6"/>
<line x1="620.02" y1="490.1" x2="627.62" y2="490.1" stroke="#1c1c1c" stroke-width="1.6"/>
<line x1="623.82" y1="513.6" x2="623.82" y2="530.6" stroke="#1c1c1c" stroke-width="1.5"/>
<line x1="620.02" y1="513.6" x2="627.62" y2="513.6" stroke="#1c1c1c" stroke-width="1.6"/>
<line x1="620.02" y1="530.6" x2="627.62" y2="530.6" stroke="#1c1c1c" stroke-width="1.6"/>
<line x1="623.82" y1="471.4" x2="623.82" y2="479.4" stroke="#1c1c1c" stroke-width="1.5"/>
<line x1="620.02" y1="471.4" x2="627.62" y2="471.4" stroke="#1c1c1c" stroke-width="1.6"/>
<line x1="620.02" y1="479.4" x2="627.62" y2="479.4" stroke="#1c1c1c" stroke-width="1.6"/>
<line x1="646.31" y1="439.8" x2="646.31" y2="448.8" stroke="#1c1c1c" stroke-width="1.5"/>
<line x1="642.51" y1="439.8" x2="650.11" y2="439.8" stroke="#1c1c1c" stroke-width="1.6"/>
<line x1="642.51" y1="448.8" x2="650.11" y2="448.8" stroke="#1c1c1c" stroke-width="1.6"/>
<line x1="646.31" y1="461.2" x2="646.31" y2="477.2" stroke="#1c1c1c" stroke-width="1.5"/>
<line x1="642.51" y1="461.2" x2="650.11" y2="461.2" stroke="#1c1c1c" stroke-width="1.6"/>
<line x1="642.51" y1="477.2" x2="650.11" y2="477.2" stroke="#1c1c1c" stroke-width="1.6"/>
<line x1="646.31" y1="506" x2="646.31" y2="523" stroke="#1c1c1c" stroke-width="1.5"/>
<line x1="642.51" y1="506" x2="650.11" y2="506" stroke="#1c1c1c" stroke-width="1.6"/>
<line x1="642.51" y1="523" x2="650.11" y2="523" stroke="#1c1c1c" stroke-width="1.6"/>
<line x1="646.31" y1="450.3" x2="646.31" y2="458.3" stroke="#1c1c1c" stroke-width="1.5"/>
<line x1="642.51" y1="450.3" x2="650.11" y2="450.3" stroke="#1c1c1c" stroke-width="1.6"/>
<line x1="642.51" y1="458.3" x2="650.11" y2="458.3" stroke="#1c1c1c" stroke-width="1.6"/>
<line x1="668.8" y1="430.4" x2="668.8" y2="439.4" stroke="#1c1c1c" stroke-width="1.5"/>
<line x1="665" y1="430.4" x2="672.6" y2="430.4" stroke="#1c1c1c" stroke-width="1.6"/>
<line x1="665" y1="439.4" x2="672.6" y2="439.4" stroke="#1c1c1c" stroke-width="1.6"/>
<line x1="668.8" y1="455.2" x2="668.8" y2="471.2" stroke="#1c1c1c" stroke-width="1.5"/>
<line x1="665" y1="455.2" x2="672.6" y2="455.2" stroke="#1c1c1c" stroke-width="1.6"/>
<line x1="665" y1="471.2" x2="672.6" y2="471.2" stroke="#1c1c1c" stroke-width="1.6"/>
<line x1="668.8" y1="501.4" x2="668.8" y2="518.4" stroke="#1c1c1c" stroke-width="1.5"/>
<line x1="665" y1="501.4" x2="672.6" y2="501.4" stroke="#1c1c1c" stroke-width="1.6"/>
<line x1="665" y1="518.4" x2="672.6" y2="518.4" stroke="#1c1c1c" stroke-width="1.6"/>
<line x1="668.8" y1="440.3" x2="668.8" y2="448.3" stroke="#1c1c1c" stroke-width="1.5"/>
<line x1="665" y1="440.3" x2="672.6" y2="440.3" stroke="#1c1c1c" stroke-width="1.6"/>
<line x1="665" y1="448.3" x2="672.6" y2="448.3" stroke="#1c1c1c" stroke-width="1.6"/>
<circle cx="443.9" cy="619" r="7.1" fill="#2c4596"/>
<circle cx="466.39" cy="608.9" r="7.1" fill="#2c4596"/>
<circle cx="488.88" cy="618" r="7.1" fill="#2c4596"/>
<circle cx="511.37" cy="617.5" r="7.1" fill="#2c4596"/>
<circle cx="533.86" cy="617" r="7.1" fill="#2c4596"/>
<circle cx="556.35" cy="616" r="7.1" fill="#2c4596"/>
<circle cx="578.84" cy="616" r="7.1" fill="#2c4596"/>
<circle cx="601.33" cy="617" r="7.1" fill="#2c4596"/>
<circle cx="623.82" cy="617" r="7.1" fill="#2c4596"/>
<circle cx="646.31" cy="615.5" r="7.1" fill="#2c4596"/>
<circle cx="668.8" cy="616.5" r="7.1" fill="#2c4596"/>
<circle cx="443.9" cy="620" r="7.1" fill="#4a78c6"/>
<circle cx="466.39" cy="620" r="7.1" fill="#4a78c6"/>
<circle cx="488.88" cy="618.8" r="7.1" fill="#4a78c6"/>
<circle cx="511.37" cy="618.8" r="7.1" fill="#4a78c6"/>
<circle cx="533.86" cy="618.5" r="7.1" fill="#4a78c6"/>
<circle cx="556.35" cy="618" r="7.1" fill="#4a78c6"/>
<circle cx="578.84" cy="618" r="7.1" fill="#4a78c6"/>
<circle cx="601.33" cy="618" r="7.1" fill="#4a78c6"/>
<circle cx="623.82" cy="618.5" r="7.1" fill="#4a78c6"/>
<circle cx="646.31" cy="618" r="7.1" fill="#4a78c6"/>
<circle cx="668.8" cy="618" r="7.1" fill="#4a78c6"/>
<circle cx="443.9" cy="619.4" r="7.1" fill="#1e8a43"/>
<circle cx="466.39" cy="614.4" r="7.1" fill="#1e8a43"/>
<circle cx="488.88" cy="611.3" r="7.1" fill="#1e8a43"/>
<circle cx="511.37" cy="607" r="7.1" fill="#1e8a43"/>
<circle cx="533.86" cy="601.7" r="7.1" fill="#1e8a43"/>
<circle cx="556.35" cy="597.2" r="7.1" fill="#1e8a43"/>
<circle cx="578.84" cy="592.8" r="7.1" fill="#1e8a43"/>
<circle cx="601.33" cy="591.6" r="7.1" fill="#1e8a43"/>
<circle cx="623.82" cy="584.2" r="7.1" fill="#1e8a43"/>
<circle cx="646.31" cy="580.5" r="7.1" fill="#1e8a43"/>
<circle cx="668.8" cy="577.5" r="7.1" fill="#1e8a43"/>
<circle cx="443.9" cy="615.7" r="7.1" fill="#9cc63d"/>
<circle cx="466.39" cy="600.8" r="7.1" fill="#9cc63d"/>
<circle cx="488.88" cy="584" r="7.1" fill="#9cc63d"/>
<circle cx="511.37" cy="573.5" r="7.1" fill="#9cc63d"/>
<circle cx="533.86" cy="559.1" r="7.1" fill="#9cc63d"/>
<circle cx="556.35" cy="548.8" r="7.1" fill="#9cc63d"/>
<circle cx="578.84" cy="541.5" r="7.1" fill="#9cc63d"/>
<circle cx="601.33" cy="528.8" r="7.1" fill="#9cc63d"/>
<circle cx="623.82" cy="522.1" r="7.1" fill="#9cc63d"/>
<circle cx="646.31" cy="514.5" r="7.1" fill="#9cc63d"/>
<circle cx="668.8" cy="509.9" r="7.1" fill="#9cc63d"/>
<circle cx="443.9" cy="608" r="7.1" fill="#fcd534"/>
<circle cx="466.39" cy="594" r="7.1" fill="#fcd534"/>
<circle cx="488.88" cy="572" r="7.1" fill="#fcd534"/>
<circle cx="511.37" cy="553" r="7.1" fill="#fcd534"/>
<circle cx="533.86" cy="533" r="7.1" fill="#fcd534"/>
<circle cx="556.35" cy="515" r="7.1" fill="#fcd534"/>
<circle cx="578.84" cy="500" r="7.1" fill="#fcd534"/>
<circle cx="601.33" cy="484" r="7.1" fill="#fcd534"/>
<circle cx="623.82" cy="482.1" r="7.1" fill="#fcd534"/>
<circle cx="646.31" cy="469.2" r="7.1" fill="#fcd534"/>
<circle cx="668.8" cy="463.2" r="7.1" fill="#fcd534"/>
<circle cx="443.9" cy="607" r="7.1" fill="#f28c2a"/>
<circle cx="466.39" cy="590" r="7.1" fill="#f28c2a"/>
<circle cx="488.88" cy="569" r="7.1" fill="#f28c2a"/>
<circle cx="511.37" cy="549.3" r="7.1" fill="#f28c2a"/>
<circle cx="533.86" cy="530.7" r="7.1" fill="#f28c2a"/>
<circle cx="556.35" cy="511.8" r="7.1" fill="#f28c2a"/>
<circle cx="578.84" cy="497" r="7.1" fill="#f28c2a"/>
<circle cx="601.33" cy="479.4" r="7.1" fill="#f28c2a"/>
<circle cx="623.82" cy="467.3" r="7.1" fill="#f28c2a"/>
<circle cx="646.31" cy="459.2" r="7.1" fill="#f28c2a"/>
<circle cx="668.8" cy="448.4" r="7.1" fill="#f28c2a"/>
<circle cx="443.9" cy="607.6" r="7.1" fill="#e8262b"/>
<circle cx="466.39" cy="585.9" r="7.1" fill="#e8262b"/>
<circle cx="488.88" cy="563" r="7.1" fill="#e8262b"/>
<circle cx="511.37" cy="543.1" r="7.1" fill="#e8262b"/>
<circle cx="533.86" cy="524" r="7.1" fill="#e8262b"/>
<circle cx="556.35" cy="504.3" r="7.1" fill="#e8262b"/>
<circle cx="578.84" cy="488.9" r="7.1" fill="#e8262b"/>
<circle cx="601.33" cy="474" r="7.1" fill="#e8262b"/>
<circle cx="623.82" cy="459.2" r="7.1" fill="#e8262b"/>
<circle cx="646.31" cy="444.3" r="7.1" fill="#e8262b"/>
<circle cx="668.8" cy="434.9" r="7.1" fill="#e8262b"/>
<circle cx="443.9" cy="608.9" r="7.1" fill="#bf2a2e"/>
<circle cx="466.39" cy="592.7" r="7.1" fill="#bf2a2e"/>
<circle cx="488.88" cy="576.6" r="7.1" fill="#bf2a2e"/>
<circle cx="511.37" cy="557.4" r="7.1" fill="#bf2a2e"/>
<circle cx="533.86" cy="541.5" r="7.1" fill="#bf2a2e"/>
<circle cx="556.35" cy="523.2" r="7.1" fill="#bf2a2e"/>
<circle cx="578.84" cy="507" r="7.1" fill="#bf2a2e"/>
<circle cx="601.33" cy="490.8" r="7.1" fill="#bf2a2e"/>
<circle cx="623.82" cy="475.4" r="7.1" fill="#bf2a2e"/>
<circle cx="646.31" cy="454.3" r="7.1" fill="#bf2a2e"/>
<circle cx="668.8" cy="444.3" r="7.1" fill="#bf2a2e"/>
<line x1="436.8" y1="431.9" x2="436.8" y2="626.8" stroke="#1c1c1c" stroke-width="2"/>
<line x1="435.8" y1="626.1" x2="677.6" y2="626.1" stroke="#1c1c1c" stroke-width="2"/>
<line x1="431.8" y1="623" x2="436.8" y2="623" stroke="#1c1c1c" stroke-width="1.8"/>
<text x="431.5" y="631" font-size="18.5" text-anchor="end">0</text>
<line x1="431.8" y1="559.3" x2="436.8" y2="559.3" stroke="#1c1c1c" stroke-width="1.8"/>
<text x="431.5" y="567.3" font-size="18.5" text-anchor="end">20</text>
<line x1="431.8" y1="495.6" x2="436.8" y2="495.6" stroke="#1c1c1c" stroke-width="1.8"/>
<text x="431.5" y="503.6" font-size="18.5" text-anchor="end">40</text>
<line x1="431.8" y1="431.9" x2="436.8" y2="431.9" stroke="#1c1c1c" stroke-width="1.8"/>
<text x="431.5" y="439.9" font-size="18.5" text-anchor="end">60</text>
<line x1="443.9" y1="626.1" x2="443.9" y2="630.7" stroke="#1c1c1c" stroke-width="1.8"/>
<text x="443.9" y="651.2" font-size="18.5" text-anchor="middle">0</text>
<line x1="500.12" y1="626.1" x2="500.12" y2="630.7" stroke="#1c1c1c" stroke-width="1.8"/>
<text x="500.12" y="651.2" font-size="18.5" text-anchor="middle">5</text>
<line x1="556.35" y1="626.1" x2="556.35" y2="630.7" stroke="#1c1c1c" stroke-width="1.8"/>
<text x="556.35" y="651.2" font-size="18.5" text-anchor="middle">10</text>
<line x1="612.57" y1="626.1" x2="612.57" y2="630.7" stroke="#1c1c1c" stroke-width="1.8"/>
<text x="612.57" y="651.2" font-size="18.5" text-anchor="middle">15</text>
<line x1="668.8" y1="626.1" x2="668.8" y2="630.7" stroke="#1c1c1c" stroke-width="1.8"/>
<text x="668.8" y="651.2" font-size="18.5" text-anchor="middle">20</text>
<text x="566.3" y="673.5" font-size="18.8" text-anchor="middle">Time (min)</text>
<text x="388.8" y="529.8" font-size="18.5" text-anchor="middle" transform="rotate(-90 388.8 529.8)">ATP (pmol cm<tspan font-size="11.1" dy="-6.66">−2</tspan><tspan dy="6.66">)</tspan></text>
<text x="474.2" y="346.3" font-size="17.5">[Ca<tspan font-size="11.5" dy="-6.5">2+</tspan><tspan dy="6.5">]</tspan><tspan font-size="11.5" dy="5">o</tspan></text>
<circle cx="452.9" cy="364" r="7.4" fill="#bf2a2e"/>
<text x="463.5" y="369.7" font-size="16.1" fill="#b8333a">17 nM (56)</text>
<circle cx="560" cy="364" r="7.4" fill="#9cc63d"/>
<text x="570.7" y="369.7" font-size="16.1" fill="#93bf4a">0.4 mM (40)</text>
<circle cx="452.9" cy="383.3" r="7.4" fill="#e8262b"/>
<text x="463.5" y="389" font-size="16.1" fill="#d62a33">3 μM (48)</text>
<circle cx="560" cy="383.3" r="7.4" fill="#1e8a43"/>
<text x="570.7" y="389" font-size="16.1" fill="#2a8a4a">0.9 mM (48)</text>
<circle cx="452.9" cy="402.6" r="7.4" fill="#f28c2a"/>
<text x="463.5" y="408.3" font-size="16.1" fill="#e8892e">24 μM (32)</text>
<circle cx="560" cy="402.6" r="7.4" fill="#4a78c6"/>
<text x="570.7" y="408.3" font-size="16.1" fill="#4d78bd">1.9 mM (32)</text>
<circle cx="452.9" cy="421.9" r="7.4" fill="#fcd534"/>
<text x="463.5" y="427.6" font-size="16.1" fill="#d6b23a">90 μM (32)</text>
<circle cx="560" cy="421.9" r="7.4" fill="#2c4596"/>
<text x="570.7" y="427.6" font-size="16.1" fill="#34489a">4.9 mM (32)</text>
</g>
<g id="pf">
<text x="379.8" y="686.9" font-size="23" font-weight="bold" stroke="#1c1c1c" stroke-width="0.5">f</text>
<path d="M457.98 712.45 L458.67 712.45 L459.37 712.45 L460.06 712.45 L460.76 712.45 L461.45 712.45 L462.15 712.45 L462.85 712.45 L463.54 712.45 L464.24 712.45 L464.93 712.45 L465.63 712.45 L466.32 712.45 L467.02 712.45 L467.72 712.45 L468.41 712.45 L469.11 712.45 L469.8 712.45 L470.5 712.45 L471.19 712.45 L471.89 712.45 L472.59 712.45 L473.28 712.45 L473.98 712.45 L474.67 712.45 L475.37 712.45 L476.07 712.45 L476.76 712.45 L477.46 712.45 L478.15 712.45 L478.85 712.45 L479.54 712.45 L480.24 712.45 L480.94 712.45 L481.63 712.45 L482.33 712.45 L483.02 712.45 L483.72 712.45 L484.41 712.45 L485.11 712.45 L485.81 712.45 L486.5 712.45 L487.2 712.45 L487.89 712.45 L488.59 712.45 L489.29 712.45 L489.98 712.45 L490.68 712.45 L491.37 712.45 L492.07 712.45 L492.76 712.45 L493.46 712.45 L494.16 712.45 L494.85 712.45 L495.55 712.45 L496.24 712.45 L496.94 712.45 L497.63 712.45 L498.33 712.45 L499.03 712.45 L499.72 712.45 L500.42 712.45 L501.11 712.45 L501.81 712.45 L502.51 712.45 L503.2 712.45 L503.9 712.45 L504.59 712.45 L505.29 712.45 L505.98 712.45 L506.68 712.45 L507.38 712.45 L508.07 712.45 L508.77 712.45 L509.46 712.45 L510.16 712.45 L510.85 712.45 L511.55 712.45 L512.25 712.45 L512.94 712.45 L513.64 712.45 L514.33 712.45 L515.03 712.45 L515.73 712.45 L516.42 712.45 L517.12 712.45 L517.81 712.45 L518.51 712.45 L519.2 712.45 L519.9 712.45 L520.6 712.45 L521.29 712.45 L521.99 712.45 L522.68 712.45 L523.38 712.45 L524.07 712.45 L524.77 712.45 L525.47 712.45 L526.16 712.45 L526.86 712.45 L527.55 712.45 L528.25 712.45 L528.94 712.45 L529.64 712.45 L530.34 712.45 L531.03 712.45 L531.73 712.45 L532.42 712.45 L533.12 712.45 L533.82 712.45 L534.51 712.45 L535.21 712.45 L535.9 712.45 L536.6 712.45 L537.29 712.45 L537.99 712.45 L538.69 712.45 L539.38 712.45 L540.08 712.45 L540.77 712.45 L541.47 712.45 L542.16 712.45 L542.86 712.45 L543.56 712.45 L544.25 712.45 L544.95 712.45 L545.64 712.45 L546.34 712.45 L547.04 712.45 L547.73 712.45 L548.43 712.45 L549.12 712.45 L549.82 712.45 L550.51 712.45 L551.21 712.45 L551.91 712.45 L552.6 712.45 L553.3 712.45 L553.99 712.45 L554.69 712.45 L555.38 712.46 L556.08 712.46 L556.78 712.46 L557.47 712.46 L558.17 712.46 L558.86 712.46 L559.56 712.46 L560.26 712.46 L560.95 712.46 L561.65 712.47 L562.34 712.47 L563.04 712.47 L563.73 712.47 L564.43 712.47 L565.13 712.48 L565.82 712.48 L566.52 712.48 L567.21 712.49 L567.91 712.49 L568.6 712.49 L569.3 712.5 L570 712.5 L570.69 712.51 L571.39 712.51 L572.08 712.52 L572.78 712.53 L573.48 712.53 L574.17 712.54 L574.87 712.55 L575.56 712.56 L576.26 712.57 L576.95 712.58 L577.65 712.6 L578.35 712.61 L579.04 712.63 L579.74 712.64 L580.43 712.66 L581.13 712.68 L581.82 712.71 L582.52 712.73 L583.22 712.76 L583.91 712.79 L584.61 712.82 L585.3 712.86 L586 712.89 L586.69 712.94 L587.39 712.98 L588.09 713.03 L588.78 713.09 L589.48 713.15 L590.17 713.22 L590.87 713.29 L591.57 713.37 L592.26 713.46 L592.96 713.55 L593.65 713.66 L594.35 713.77 L595.04 713.9 L595.74 714.03 L596.44 714.18 L597.13 714.35 L597.83 714.52 L598.52 714.72 L599.22 714.93 L599.91 715.16 L600.61 715.42 L601.31 715.69 L602 715.99 L602.7 716.32 L603.39 716.68 L604.09 717.07 L604.79 717.49 L605.48 717.95 L606.18 718.45 L606.87 718.99 L607.57 719.58 L608.26 720.22 L608.96 720.91 L609.66 721.66 L610.35 722.46 L611.05 723.34 L611.74 724.28 L612.44 725.29 L613.13 726.38 L613.83 727.54 L614.53 728.79 L615.22 730.13 L615.92 731.56 L616.61 733.08 L617.31 734.69 L618.01 736.4 L618.7 738.21 L619.4 740.12 L620.09 742.13 L620.79 744.23 L621.48 746.43 L622.18 748.72 L622.88 751.1 L623.57 753.56 L624.27 756.1 L624.96 758.71 L625.66 761.37 L626.35 764.09 L627.05 766.85 L627.75 769.64 L628.44 772.44 L629.14 775.26 L629.83 778.07 L630.53 780.86 L631.23 783.63 L631.92 786.35 L632.62 789.03 L633.31 791.65 L634.01 794.21 L634.7 796.69 L635.4 799.09 L636.1 801.4 L636.79 803.62 L637.49 805.74 L638.18 807.77 L638.88 809.71 L639.57 811.54 L640.27 813.27 L640.97 814.91 L641.66 816.45 L642.36 817.9 L643.05 819.26 L643.75 820.53 L644.44 821.71 L645.14 822.82 L645.84 823.85 L646.53 824.8 L647.23 825.69 L647.92 826.51 L648.62 827.27 L649.32 827.98 L650.01 828.63 L650.71 829.23 L651.4 829.78 L652.1 830.29 L652.79 830.76 L653.49 831.19 L654.19 831.58 L654.88 831.95 L655.58 832.28 L656.27 832.59 L656.97 832.87 L657.66 833.13 L658.36 833.37 L659.06 833.58 L659.75 833.78 L660.45 833.96 L661.14 834.13 L661.84 834.28 L662.54 834.42 L663.23 834.55 L663.93 834.66 L664.62 834.77 L665.32 834.87 L666.01 834.96 L666.71 835.04" fill="none" stroke="#d9252e" stroke-width="2"/>
<line x1="457.59" y1="705.3" x2="457.59" y2="720.3" stroke="#1c1c1c" stroke-width="1.8"/>
<circle cx="457.59" cy="712.8" r="7.9" fill="none" stroke="#1c1c1c" stroke-width="2.1"/>
<line x1="544.15" y1="696.7" x2="544.15" y2="716.7" stroke="#1c1c1c" stroke-width="1.8"/>
<line x1="540.35" y1="696.7" x2="547.95" y2="696.7" stroke="#1c1c1c" stroke-width="1.8"/>
<line x1="540.35" y1="716.7" x2="547.95" y2="716.7" stroke="#1c1c1c" stroke-width="1.8"/>
<circle cx="544.15" cy="706.7" r="7.9" fill="none" stroke="#1c1c1c" stroke-width="2.1"/>
<line x1="578.62" y1="706.3" x2="578.62" y2="723.3" stroke="#1c1c1c" stroke-width="1.8"/>
<line x1="574.82" y1="706.3" x2="582.42" y2="706.3" stroke="#1c1c1c" stroke-width="1.8"/>
<line x1="574.82" y1="723.3" x2="582.42" y2="723.3" stroke="#1c1c1c" stroke-width="1.8"/>
<circle cx="578.62" cy="714.8" r="7.9" fill="none" stroke="#1c1c1c" stroke-width="2.1"/>
<line x1="600.83" y1="718.5" x2="600.83" y2="732.9" stroke="#1c1c1c" stroke-width="1.8"/>
<circle cx="600.83" cy="725.7" r="7.9" fill="none" stroke="#1c1c1c" stroke-width="2.1"/>
<line x1="624.96" y1="753" x2="624.96" y2="762" stroke="#1c1c1c" stroke-width="1.8"/>
<line x1="621.16" y1="753" x2="628.76" y2="753" stroke="#1c1c1c" stroke-width="1.8"/>
<line x1="621.16" y1="762" x2="628.76" y2="762" stroke="#1c1c1c" stroke-width="1.8"/>
<circle cx="624.96" cy="757.5" r="7.9" fill="none" stroke="#1c1c1c" stroke-width="2.1"/>
<line x1="638.37" y1="801.6" x2="638.37" y2="806.8" stroke="#1c1c1c" stroke-width="1.8"/>
<line x1="634.57" y1="801.6" x2="642.17" y2="801.6" stroke="#1c1c1c" stroke-width="1.8"/>
<line x1="634.57" y1="806.8" x2="642.17" y2="806.8" stroke="#1c1c1c" stroke-width="1.8"/>
<circle cx="638.37" cy="804.2" r="7.9" fill="none" stroke="#1c1c1c" stroke-width="2.1"/>
<line x1="647.97" y1="831.8" x2="655.57" y2="831.8" stroke="#1c1c1c" stroke-width="1.8"/>
<line x1="647.97" y1="831.8" x2="655.57" y2="831.8" stroke="#1c1c1c" stroke-width="1.8"/>
<circle cx="651.77" cy="831.8" r="7.9" fill="none" stroke="#1c1c1c" stroke-width="2.1"/>
<line x1="667.86" y1="828.8" x2="667.86" y2="833.2" stroke="#1c1c1c" stroke-width="1.8"/>
<line x1="664.06" y1="828.8" x2="671.66" y2="828.8" stroke="#1c1c1c" stroke-width="1.8"/>
<line x1="664.06" y1="833.2" x2="671.66" y2="833.2" stroke="#1c1c1c" stroke-width="1.8"/>
<circle cx="667.86" cy="831" r="7.9" fill="none" stroke="#1c1c1c" stroke-width="2.1"/>
<line x1="437.4" y1="694.5" x2="437.4" y2="839.7" stroke="#1c1c1c" stroke-width="2"/>
<line x1="436.4" y1="838.7" x2="680" y2="838.7" stroke="#1c1c1c" stroke-width="2"/>
<line x1="432.4" y1="835.9" x2="437.4" y2="835.9" stroke="#1c1c1c" stroke-width="1.8"/>
<text x="428" y="842.4" font-size="18.5" text-anchor="end">0</text>
<line x1="432.4" y1="792.2" x2="437.4" y2="792.2" stroke="#1c1c1c" stroke-width="1.8"/>
<text x="428" y="798.7" font-size="18.5" text-anchor="end">20</text>
<line x1="432.4" y1="748.5" x2="437.4" y2="748.5" stroke="#1c1c1c" stroke-width="1.8"/>
<text x="428" y="755" font-size="18.5" text-anchor="end">40</text>
<line x1="432.4" y1="704.8" x2="437.4" y2="704.8" stroke="#1c1c1c" stroke-width="1.8"/>
<text x="428" y="711.3" font-size="18.5" text-anchor="end">60</text>
<line x1="448.4" y1="838.7" x2="448.4" y2="843.3" stroke="#1c1c1c" stroke-width="1.8"/>
<text x="454" y="860.8" font-size="18.5" text-anchor="end">−5</text>
<line x1="486.7" y1="838.7" x2="486.7" y2="843.3" stroke="#1c1c1c" stroke-width="1.8"/>
<text x="492.3" y="860.8" font-size="18.5" text-anchor="end">−4</text>
<line x1="525" y1="838.7" x2="525" y2="843.3" stroke="#1c1c1c" stroke-width="1.8"/>
<text x="530.6" y="860.8" font-size="18.5" text-anchor="end">−3</text>
<line x1="563.3" y1="838.7" x2="563.3" y2="843.3" stroke="#1c1c1c" stroke-width="1.8"/>
<text x="568.9" y="860.8" font-size="18.5" text-anchor="end">−2</text>
<line x1="601.6" y1="838.7" x2="601.6" y2="843.3" stroke="#1c1c1c" stroke-width="1.8"/>
<text x="607.2" y="860.8" font-size="18.5" text-anchor="end">−1</text>
<line x1="639.9" y1="838.7" x2="639.9" y2="843.3" stroke="#1c1c1c" stroke-width="1.8"/>
<text x="639.9" y="860.8" font-size="18.5" text-anchor="middle">0</text>
<line x1="678.2" y1="838.7" x2="678.2" y2="843.3" stroke="#1c1c1c" stroke-width="1.8"/>
<text x="678.2" y="860.8" font-size="18.5" text-anchor="middle">1</text>
<text x="565.2" y="885" font-size="18.3" text-anchor="middle">log ([Ca<tspan font-size="10.5" dy="-6.5">2+</tspan><tspan dy="6.5">]</tspan><tspan font-size="10.5" dy="4">o</tspan><tspan dy="-4">) (mM)</tspan></text>
<text x="386.5" y="767" font-size="18.5" text-anchor="middle" transform="rotate(-90 386.5 767)">ATP (pmol cm<tspan font-size="11.1" dy="-6.66">−2</tspan><tspan dy="6.66">)</tspan></text>
</g>
<g id="pg">
<text x="14.5" y="913.6" font-size="23" font-weight="bold" stroke="#1c1c1c" stroke-width="0.5">g</text>
<circle cx="76.6" cy="1067" r="5" fill="none" stroke="#1c1c1c" stroke-width="2"/>
<circle cx="88.12" cy="1067.5" r="5" fill="none" stroke="#1c1c1c" stroke-width="2"/>
<circle cx="99.64" cy="1067" r="5" fill="none" stroke="#1c1c1c" stroke-width="2"/>
<circle cx="111.16" cy="1067.5" r="5" fill="none" stroke="#1c1c1c" stroke-width="2"/>
<circle cx="122.68" cy="1067.7" r="5" fill="none" stroke="#1c1c1c" stroke-width="2"/>
<circle cx="134.2" cy="1067.3" r="5" fill="none" stroke="#1c1c1c" stroke-width="2"/>
<circle cx="145.72" cy="1066.5" r="5" fill="none" stroke="#1c1c1c" stroke-width="2"/>
<circle cx="157.24" cy="1067.5" r="5" fill="none" stroke="#1c1c1c" stroke-width="2"/>
<circle cx="168.76" cy="1067" r="5" fill="none" stroke="#1c1c1c" stroke-width="2"/>
<circle cx="180.28" cy="1067.3" r="5" fill="none" stroke="#1c1c1c" stroke-width="2"/>
<circle cx="191.8" cy="1066.7" r="5" fill="none" stroke="#1c1c1c" stroke-width="2"/>
<circle cx="203.32" cy="1067" r="5" fill="none" stroke="#1c1c1c" stroke-width="2"/>
<circle cx="214.84" cy="1067.5" r="5" fill="none" stroke="#1c1c1c" stroke-width="2"/>
<circle cx="226.36" cy="1066.5" r="5" fill="none" stroke="#1c1c1c" stroke-width="2"/>
<circle cx="237.88" cy="1066" r="5" fill="none" stroke="#1c1c1c" stroke-width="2"/>
<circle cx="249.4" cy="1066.8" r="5" fill="none" stroke="#1c1c1c" stroke-width="2"/>
<circle cx="260.92" cy="1066" r="5" fill="none" stroke="#1c1c1c" stroke-width="2"/>
<circle cx="272.44" cy="1066.5" r="5" fill="none" stroke="#1c1c1c" stroke-width="2"/>
<circle cx="283.96" cy="1067" r="5" fill="none" stroke="#1c1c1c" stroke-width="2"/>
<circle cx="295.48" cy="1066.3" r="5" fill="none" stroke="#1c1c1c" stroke-width="2"/>
<circle cx="307" cy="1066.5" r="5" fill="none" stroke="#1c1c1c" stroke-width="2"/>
<circle cx="76.6" cy="1065.5" r="6.3" fill="#1c1c1c"/>
<circle cx="88.12" cy="1066" r="6.3" fill="#1c1c1c"/>
<circle cx="99.64" cy="1065.5" r="6.3" fill="#1c1c1c"/>
<circle cx="111.16" cy="1066" r="6.3" fill="#1c1c1c"/>
<circle cx="122.68" cy="1066.2" r="6.3" fill="#1c1c1c"/>
<circle cx="134.2" cy="1065.8" r="6.3" fill="#1c1c1c"/>
<circle cx="145.72" cy="1065" r="6.3" fill="#1c1c1c"/>
<circle cx="157.24" cy="1066" r="6.3" fill="#1c1c1c"/>
<circle cx="168.76" cy="1065.5" r="6.3" fill="#1c1c1c"/>
<circle cx="180.28" cy="1065.8" r="6.3" fill="#1c1c1c"/>
<circle cx="191.8" cy="1065.2" r="6.3" fill="#1c1c1c"/>
<circle cx="203.32" cy="1065.5" r="6.3" fill="#1c1c1c"/>
<circle cx="214.84" cy="1066" r="6.3" fill="#1c1c1c"/>
<circle cx="226.36" cy="1065" r="6.3" fill="#1c1c1c"/>
<circle cx="237.88" cy="1064.5" r="6.3" fill="#1c1c1c"/>
<circle cx="249.4" cy="1065.3" r="6.3" fill="#1c1c1c"/>
<circle cx="260.92" cy="1064.5" r="6.3" fill="#1c1c1c"/>
<circle cx="272.44" cy="1065" r="6.3" fill="#1c1c1c"/>
<circle cx="283.96" cy="1065.5" r="6.3" fill="#1c1c1c"/>
<circle cx="295.48" cy="1064.8" r="6.3" fill="#1c1c1c"/>
<circle cx="307" cy="1065" r="6.3" fill="#1c1c1c"/>
<line x1="214.84" y1="998.9" x2="214.84" y2="1012.9" stroke="#1c1c1c" stroke-width="1.5"/>
<line x1="211.04" y1="998.9" x2="218.64" y2="998.9" stroke="#1c1c1c" stroke-width="1.6"/>
<line x1="211.04" y1="1012.9" x2="218.64" y2="1012.9" stroke="#1c1c1c" stroke-width="1.6"/>
<line x1="226.36" y1="995.32" x2="226.36" y2="1009.48" stroke="#1c1c1c" stroke-width="1.5"/>
<line x1="222.56" y1="995.32" x2="230.16" y2="995.32" stroke="#1c1c1c" stroke-width="1.6"/>
<line x1="222.56" y1="1009.48" x2="230.16" y2="1009.48" stroke="#1c1c1c" stroke-width="1.6"/>
<line x1="237.88" y1="989.14" x2="237.88" y2="1003.46" stroke="#1c1c1c" stroke-width="1.5"/>
<line x1="234.08" y1="989.14" x2="241.68" y2="989.14" stroke="#1c1c1c" stroke-width="1.6"/>
<line x1="234.08" y1="1003.46" x2="241.68" y2="1003.46" stroke="#1c1c1c" stroke-width="1.6"/>
<line x1="249.4" y1="987.26" x2="249.4" y2="1001.74" stroke="#1c1c1c" stroke-width="1.5"/>
<line x1="245.6" y1="987.26" x2="253.2" y2="987.26" stroke="#1c1c1c" stroke-width="1.6"/>
<line x1="245.6" y1="1001.74" x2="253.2" y2="1001.74" stroke="#1c1c1c" stroke-width="1.6"/>
<line x1="260.92" y1="980.18" x2="260.92" y2="994.82" stroke="#1c1c1c" stroke-width="1.5"/>
<line x1="257.12" y1="980.18" x2="264.72" y2="980.18" stroke="#1c1c1c" stroke-width="1.6"/>
<line x1="257.12" y1="994.82" x2="264.72" y2="994.82" stroke="#1c1c1c" stroke-width="1.6"/>
<line x1="272.44" y1="985.4" x2="272.44" y2="1000.2" stroke="#1c1c1c" stroke-width="1.5"/>
<line x1="268.64" y1="985.4" x2="276.24" y2="985.4" stroke="#1c1c1c" stroke-width="1.6"/>
<line x1="268.64" y1="1000.2" x2="276.24" y2="1000.2" stroke="#1c1c1c" stroke-width="1.6"/>
<line x1="283.96" y1="977.42" x2="283.96" y2="992.38" stroke="#1c1c1c" stroke-width="1.5"/>
<line x1="280.16" y1="977.42" x2="287.76" y2="977.42" stroke="#1c1c1c" stroke-width="1.6"/>
<line x1="280.16" y1="992.38" x2="287.76" y2="992.38" stroke="#1c1c1c" stroke-width="1.6"/>
<line x1="295.48" y1="976.44" x2="295.48" y2="991.56" stroke="#1c1c1c" stroke-width="1.5"/>
<line x1="291.68" y1="976.44" x2="299.28" y2="976.44" stroke="#1c1c1c" stroke-width="1.6"/>
<line x1="291.68" y1="991.56" x2="299.28" y2="991.56" stroke="#1c1c1c" stroke-width="1.6"/>
<line x1="307" y1="970.26" x2="307" y2="985.54" stroke="#1c1c1c" stroke-width="1.5"/>
<line x1="303.2" y1="970.26" x2="310.8" y2="970.26" stroke="#1c1c1c" stroke-width="1.6"/>
<line x1="303.2" y1="985.54" x2="310.8" y2="985.54" stroke="#1c1c1c" stroke-width="1.6"/>
<line x1="245.9" y1="1037.6" x2="252.9" y2="1037.6" stroke="#1c1c1c" stroke-width="1.6"/>
<line x1="245.9" y1="1049.6" x2="252.9" y2="1049.6" stroke="#1c1c1c" stroke-width="1.6"/>
<line x1="291.98" y1="1037.2" x2="298.98" y2="1037.2" stroke="#1c1c1c" stroke-width="1.6"/>
<line x1="291.98" y1="1049.2" x2="298.98" y2="1049.2" stroke="#1c1c1c" stroke-width="1.6"/>
<circle cx="76.6" cy="1052.8" r="6.4" fill="#2f48a6"/>
<circle cx="88.12" cy="1055.2" r="6.4" fill="#2f48a6"/>
<circle cx="99.64" cy="1046.4" r="6.4" fill="#2f48a6"/>
<circle cx="111.16" cy="1044.8" r="6.4" fill="#2f48a6"/>
<circle cx="122.68" cy="1038.6" r="6.4" fill="#2f48a6"/>
<circle cx="134.2" cy="1029.6" r="6.4" fill="#2f48a6"/>
<circle cx="145.72" cy="1029.8" r="6.4" fill="#2f48a6"/>
<circle cx="157.24" cy="1025" r="6.4" fill="#2f48a6"/>
<circle cx="168.76" cy="1020.3" r="6.4" fill="#2f48a6"/>
<circle cx="180.28" cy="1014" r="6.4" fill="#2f48a6"/>
<circle cx="191.8" cy="1013.2" r="6.4" fill="#2f48a6"/>
<circle cx="203.32" cy="1010.3" r="6.4" fill="#2f48a6"/>
<circle cx="214.84" cy="1005.9" r="6.4" fill="#2f48a6"/>
<circle cx="226.36" cy="1002.4" r="6.4" fill="#2f48a6"/>
<circle cx="237.88" cy="996.3" r="6.4" fill="#2f48a6"/>
<circle cx="249.4" cy="994.5" r="6.4" fill="#2f48a6"/>
<circle cx="260.92" cy="987.5" r="6.4" fill="#2f48a6"/>
<circle cx="272.44" cy="992.8" r="6.4" fill="#2f48a6"/>
<circle cx="283.96" cy="984.9" r="6.4" fill="#2f48a6"/>
<circle cx="295.48" cy="984" r="6.4" fill="#2f48a6"/>
<circle cx="307" cy="977.9" r="6.4" fill="#2f48a6"/>
<circle cx="76.6" cy="1048.4" r="5.2" fill="none" stroke="#2f48a6" stroke-width="2.1"/>
<circle cx="88.12" cy="1058.9" r="5.2" fill="none" stroke="#2f48a6" stroke-width="2.1"/>
<circle cx="99.64" cy="1055" r="5.2" fill="none" stroke="#2f48a6" stroke-width="2.1"/>
<circle cx="111.16" cy="1056.3" r="5.2" fill="none" stroke="#2f48a6" stroke-width="2.1"/>
<circle cx="122.68" cy="1056.3" r="5.2" fill="none" stroke="#2f48a6" stroke-width="2.1"/>
<circle cx="134.2" cy="1053.7" r="5.2" fill="none" stroke="#2f48a6" stroke-width="2.1"/>
<circle cx="145.72" cy="1050.1" r="5.2" fill="none" stroke="#2f48a6" stroke-width="2.1"/>
<circle cx="157.24" cy="1054.5" r="5.2" fill="none" stroke="#2f48a6" stroke-width="2.1"/>
<circle cx="168.76" cy="1053.7" r="5.2" fill="none" stroke="#2f48a6" stroke-width="2.1"/>
<circle cx="180.28" cy="1047.5" r="5.2" fill="none" stroke="#2f48a6" stroke-width="2.1"/>
<circle cx="191.8" cy="1050.7" r="5.2" fill="none" stroke="#2f48a6" stroke-width="2.1"/>
<circle cx="203.32" cy="1044.7" r="5.2" fill="none" stroke="#2f48a6" stroke-width="2.1"/>
<circle cx="214.84" cy="1046.2" r="5.2" fill="none" stroke="#2f48a6" stroke-width="2.1"/>
<circle cx="226.36" cy="1049.7" r="5.2" fill="none" stroke="#2f48a6" stroke-width="2.1"/>
<circle cx="237.88" cy="1048.5" r="5.2" fill="none" stroke="#2f48a6" stroke-width="2.1"/>
<circle cx="249.4" cy="1043.6" r="5.2" fill="none" stroke="#2f48a6" stroke-width="2.1"/>
<circle cx="260.92" cy="1046.2" r="5.2" fill="none" stroke="#2f48a6" stroke-width="2.1"/>
<circle cx="272.44" cy="1046.7" r="5.2" fill="none" stroke="#2f48a6" stroke-width="2.1"/>
<circle cx="283.96" cy="1047.1" r="5.2" fill="none" stroke="#2f48a6" stroke-width="2.1"/>
<circle cx="295.48" cy="1043.2" r="5.2" fill="none" stroke="#2f48a6" stroke-width="2.1"/>
<circle cx="307" cy="1041.8" r="5.2" fill="none" stroke="#2f48a6" stroke-width="2.1"/>
<line x1="70.2" y1="927.1" x2="70.2" y2="1072.5" stroke="#1c1c1c" stroke-width="2"/>
<line x1="69.2" y1="1071.5" x2="312" y2="1071.5" stroke="#1c1c1c" stroke-width="2"/>
<line x1="65.2" y1="1069.1" x2="70.2" y2="1069.1" stroke="#1c1c1c" stroke-width="1.8"/>
<text x="61" y="1075.6" font-size="18.5" text-anchor="end">0</text>
<line x1="65.2" y1="998.1" x2="70.2" y2="998.1" stroke="#1c1c1c" stroke-width="1.8"/>
<text x="61" y="1004.6" font-size="18.5" text-anchor="end">5</text>
<line x1="65.2" y1="927.1" x2="70.2" y2="927.1" stroke="#1c1c1c" stroke-width="1.8"/>
<text x="61" y="933.6" font-size="18.5" text-anchor="end">10</text>
<line x1="76.6" y1="1071.5" x2="76.6" y2="1076.1" stroke="#1c1c1c" stroke-width="1.8"/>
<text x="76.6" y="1094.8" font-size="18.5" text-anchor="middle">0</text>
<line x1="134.2" y1="1071.5" x2="134.2" y2="1076.1" stroke="#1c1c1c" stroke-width="1.8"/>
<text x="134.2" y="1094.8" font-size="18.5" text-anchor="middle">10</text>
<line x1="191.8" y1="1071.5" x2="191.8" y2="1076.1" stroke="#1c1c1c" stroke-width="1.8"/>
<text x="191.8" y="1094.8" font-size="18.5" text-anchor="middle">20</text>
<line x1="249.4" y1="1071.5" x2="249.4" y2="1076.1" stroke="#1c1c1c" stroke-width="1.8"/>
<text x="249.4" y="1094.8" font-size="18.5" text-anchor="middle">30</text>
<line x1="307" y1="1071.5" x2="307" y2="1076.1" stroke="#1c1c1c" stroke-width="1.8"/>
<text x="307" y="1094.8" font-size="18.5" text-anchor="middle">40</text>
<text x="194" y="1113.1" font-size="18.8" text-anchor="middle">Time (min)</text>
<text x="26" y="996.6" font-size="18.5" text-anchor="middle" transform="rotate(-90 26 996.6)">ATP (pmol cm<tspan font-size="11.1" dy="-6.66">−2</tspan><tspan dy="6.66">)</tspan></text>
<circle cx="91.9" cy="909.5" r="7.1" fill="#2f48a6"/>
<text x="104.1" y="915.1" font-size="15.7" fill="#3b4fa6">High K (CALHM1) (40)</text>
<circle cx="91.9" cy="929.7" r="5.9" fill="#fff" stroke="#2f48a6" stroke-width="2.4"/>
<text x="104.1" y="935.3" font-size="15.7" fill="#3b4fa6">Normal K (CALHM1) (16)</text>
<circle cx="91.9" cy="949.6" r="7.1" fill="#1c1c1c"/>
<text x="104.1" y="955.2" font-size="15.7">High K (Mock) (40)</text>
<circle cx="91.9" cy="968.9" r="5.9" fill="#fff" stroke="#1c1c1c" stroke-width="2.4"/>
<text x="104.1" y="974.5" font-size="15.7">Normal K (Mock) (16)</text>
</g>
<g id="ph">
<text x="350.8" y="914.2" font-size="23" font-weight="bold" stroke="#1c1c1c" stroke-width="0.5">h</text>
<line x1="465" y1="1079.5" x2="465" y2="1081.7" stroke="#1c1c1c" stroke-width="1.6"/>
<line x1="460.8" y1="1079.5" x2="469.2" y2="1079.5" stroke="#1c1c1c" stroke-width="1.6"/>
<rect x="441.2" y="1081.7" width="47.6" height="3.7" fill="#fff" stroke="#1c1c1c" stroke-width="2"/>
<line x1="525.3" y1="1079.3" x2="525.3" y2="1081" stroke="#1c1c1c" stroke-width="1.6"/>
<line x1="521.1" y1="1079.3" x2="529.5" y2="1079.3" stroke="#1c1c1c" stroke-width="1.6"/>
<rect x="500.7" y="1081" width="49.2" height="4.4" fill="#1c1c1c" stroke="#1c1c1c" stroke-width="2"/>
<line x1="585.8" y1="1038.5" x2="585.8" y2="1047.8" stroke="#1c1c1c" stroke-width="1.6"/>
<line x1="581.6" y1="1038.5" x2="590" y2="1038.5" stroke="#1c1c1c" stroke-width="1.6"/>
<rect x="561" y="1047.8" width="49.6" height="37.6" fill="#fff" stroke="#293d95" stroke-width="2"/>
<line x1="646.45" y1="962.5" x2="646.45" y2="973.7" stroke="#1c1c1c" stroke-width="1.6"/>
<line x1="642.25" y1="962.5" x2="650.65" y2="962.5" stroke="#1c1c1c" stroke-width="1.6"/>
<rect x="621.7" y="973.7" width="49.5" height="111.7" fill="#293d95" stroke="#293d95" stroke-width="2"/>
<text x="466.1" y="1071.3" font-size="15.7" text-anchor="middle">(16)</text>
<text x="525.7" y="1071.3" font-size="15.7" text-anchor="middle">(40)</text>
<text x="584.5" y="1065.7" font-size="15.7" text-anchor="middle">(16)</text>
<text x="647" y="993.1" font-size="15.7" text-anchor="middle" fill="#fff">(40)</text>
<line x1="434.6" y1="940.4" x2="434.6" y2="1086.4" stroke="#1c1c1c" stroke-width="2"/>
<line x1="433.6" y1="1085.4" x2="677.6" y2="1085.4" stroke="#1c1c1c" stroke-width="2"/>
<line x1="429.6" y1="1086.3" x2="434.6" y2="1086.3" stroke="#1c1c1c" stroke-width="1.8"/>
<text x="428.8" y="1092.8" font-size="18.5" text-anchor="end">0</text>
<line x1="429.6" y1="1013.35" x2="434.6" y2="1013.35" stroke="#1c1c1c" stroke-width="1.8"/>
<text x="428.8" y="1019.85" font-size="18.5" text-anchor="end">2.5</text>
<line x1="429.6" y1="940.4" x2="434.6" y2="940.4" stroke="#1c1c1c" stroke-width="1.8"/>
<text x="428.8" y="946.9" font-size="18.5" text-anchor="end">5</text>
<text x="466.5" y="1105.3" font-size="18.5" text-anchor="middle">Norm</text>
<text x="466.5" y="1128.4" font-size="18.5" text-anchor="middle">K<tspan font-size="13" dy="-6.5">+</tspan></text>
<text x="528" y="1105.3" font-size="18.5" text-anchor="middle">High</text>
<text x="528" y="1128.4" font-size="18.5" text-anchor="middle">K<tspan font-size="13" dy="-6.5">+</tspan></text>
<text x="588.5" y="1105.3" font-size="18.5" text-anchor="middle">Norm</text>
<text x="588.5" y="1128.4" font-size="18.5" text-anchor="middle">K<tspan font-size="13" dy="-6.5">+</tspan></text>
<text x="649" y="1105.3" font-size="18.5" text-anchor="middle">High</text>
<text x="649" y="1128.4" font-size="18.5" text-anchor="middle">K<tspan font-size="13" dy="-6.5">+</tspan></text>
<text x="475.4" y="992.3" font-size="18.5">Mock</text>
<text x="575.2" y="925.3" font-size="18.3">CALHM1</text>
<line x1="585.6" y1="938" x2="606.8" y2="938" stroke="#2a2a2a" stroke-width="1.3"/>
<line x1="626.2" y1="938" x2="647.1" y2="938" stroke="#2a2a2a" stroke-width="1.3"/>
<path d="M616.2 937.7L616.2 932.5M616.2 937.7L621.15 936.09M616.2 937.7L619.26 941.91M616.2 937.7L613.14 941.91M616.2 937.7L611.25 936.09" stroke="#1c1c1c" stroke-width="2.1" fill="none" stroke-linecap="butt"/>
<line x1="526" y1="954" x2="577.8" y2="954" stroke="#2a2a2a" stroke-width="1.3"/>
<line x1="596.8" y1="954" x2="647.1" y2="954" stroke="#2a2a2a" stroke-width="1.3"/>
<path d="M586.4 953.7L586.4 948.5M586.4 953.7L591.35 952.09M586.4 953.7L589.46 957.91M586.4 953.7L583.34 957.91M586.4 953.7L581.45 952.09" stroke="#1c1c1c" stroke-width="2.1" fill="none" stroke-linecap="butt"/>
<line x1="466.1" y1="1018.4" x2="516.4" y2="1018.4" stroke="#2a2a2a" stroke-width="1.3"/>
<line x1="536.8" y1="1018.4" x2="587.5" y2="1018.4" stroke="#2a2a2a" stroke-width="1.3"/>
<path d="M526 1018.1L526 1012.9M526 1018.1L530.95 1016.49M526 1018.1L529.06 1022.31M526 1018.1L522.94 1022.31M526 1018.1L521.05 1016.49" stroke="#1c1c1c" stroke-width="2.1" fill="none" stroke-linecap="butt"/>
<text x="364.5" y="1008.7" font-size="18.5" text-anchor="middle" transform="rotate(-90 364.5 1008.7)">ATP (pmol cm<tspan font-size="11.1" dy="-6.66">−2</tspan><tspan dy="6.66">)</tspan></text>
<text x="385.5" y="1013.4" font-size="19.5" text-anchor="middle" transform="rotate(-90 385.5 1013.4)">at 20 min</text>
</g>
<g id="pi">
<text x="17.8" y="1148.6" font-size="19.5" font-weight="bold" stroke="#1c1c1c" stroke-width="0.5">i</text>
<line x1="169.34" y1="1258.2" x2="169.34" y2="1264.2" stroke="#1c1c1c" stroke-width="1.6"/>
<line x1="165.54" y1="1258.2" x2="173.14" y2="1258.2" stroke="#1c1c1c" stroke-width="1.6"/>
<line x1="165.54" y1="1264.2" x2="173.14" y2="1264.2" stroke="#1c1c1c" stroke-width="1.6"/>
<line x1="191.4" y1="1236.7" x2="191.4" y2="1242.7" stroke="#1c1c1c" stroke-width="1.6"/>
<line x1="187.6" y1="1236.7" x2="195.2" y2="1236.7" stroke="#1c1c1c" stroke-width="1.6"/>
<line x1="187.6" y1="1242.7" x2="195.2" y2="1242.7" stroke="#1c1c1c" stroke-width="1.6"/>
<line x1="213.46" y1="1230.6" x2="213.46" y2="1236.6" stroke="#1c1c1c" stroke-width="1.6"/>
<line x1="209.66" y1="1230.6" x2="217.26" y2="1230.6" stroke="#1c1c1c" stroke-width="1.6"/>
<line x1="209.66" y1="1236.6" x2="217.26" y2="1236.6" stroke="#1c1c1c" stroke-width="1.6"/>
<line x1="235.52" y1="1217" x2="235.52" y2="1230" stroke="#1c1c1c" stroke-width="1.6"/>
<line x1="231.72" y1="1217" x2="239.32" y2="1217" stroke="#1c1c1c" stroke-width="1.6"/>
<line x1="231.72" y1="1230" x2="239.32" y2="1230" stroke="#1c1c1c" stroke-width="1.6"/>
<line x1="257.58" y1="1206.6" x2="257.58" y2="1222" stroke="#1c1c1c" stroke-width="1.6"/>
<line x1="253.78" y1="1206.6" x2="261.38" y2="1206.6" stroke="#1c1c1c" stroke-width="1.6"/>
<line x1="253.78" y1="1222" x2="261.38" y2="1222" stroke="#1c1c1c" stroke-width="1.6"/>
<line x1="257.58" y1="1259.9" x2="257.58" y2="1269.9" stroke="#1c1c1c" stroke-width="1.6"/>
<line x1="253.78" y1="1259.9" x2="261.38" y2="1259.9" stroke="#1c1c1c" stroke-width="1.6"/>
<line x1="253.78" y1="1269.9" x2="261.38" y2="1269.9" stroke="#1c1c1c" stroke-width="1.6"/>
<line x1="279.64" y1="1202.7" x2="279.64" y2="1219.7" stroke="#1c1c1c" stroke-width="1.6"/>
<line x1="275.84" y1="1202.7" x2="283.44" y2="1202.7" stroke="#1c1c1c" stroke-width="1.6"/>
<line x1="275.84" y1="1219.7" x2="283.44" y2="1219.7" stroke="#1c1c1c" stroke-width="1.6"/>
<line x1="279.64" y1="1255.4" x2="279.64" y2="1269.4" stroke="#1c1c1c" stroke-width="1.6"/>
<line x1="275.84" y1="1255.4" x2="283.44" y2="1255.4" stroke="#1c1c1c" stroke-width="1.6"/>
<line x1="275.84" y1="1269.4" x2="283.44" y2="1269.4" stroke="#1c1c1c" stroke-width="1.6"/>
<line x1="301.7" y1="1193.5" x2="301.7" y2="1210.5" stroke="#1c1c1c" stroke-width="1.6"/>
<line x1="297.9" y1="1193.5" x2="305.5" y2="1193.5" stroke="#1c1c1c" stroke-width="1.6"/>
<line x1="297.9" y1="1210.5" x2="305.5" y2="1210.5" stroke="#1c1c1c" stroke-width="1.6"/>
<line x1="301.7" y1="1258.3" x2="301.7" y2="1270.3" stroke="#1c1c1c" stroke-width="1.6"/>
<line x1="297.9" y1="1258.3" x2="305.5" y2="1258.3" stroke="#1c1c1c" stroke-width="1.6"/>
<line x1="297.9" y1="1270.3" x2="305.5" y2="1270.3" stroke="#1c1c1c" stroke-width="1.6"/>
<circle cx="81.1" cy="1271" r="5.6" fill="#fff" stroke="#1c1c1c" stroke-width="2"/>
<circle cx="103.16" cy="1271" r="5.6" fill="#fff" stroke="#1c1c1c" stroke-width="2"/>
<circle cx="125.22" cy="1276.4" r="5.6" fill="#fff" stroke="#1c1c1c" stroke-width="2"/>
<circle cx="147.28" cy="1277.1" r="5.6" fill="#fff" stroke="#1c1c1c" stroke-width="2"/>
<circle cx="169.34" cy="1276.5" r="5.6" fill="#fff" stroke="#1c1c1c" stroke-width="2"/>
<circle cx="191.4" cy="1272.5" r="5.6" fill="#fff" stroke="#1c1c1c" stroke-width="2"/>
<circle cx="213.46" cy="1267" r="5.6" fill="#fff" stroke="#1c1c1c" stroke-width="2"/>
<circle cx="235.52" cy="1280.8" r="5.6" fill="#fff" stroke="#1c1c1c" stroke-width="2"/>
<circle cx="257.58" cy="1275.6" r="5.6" fill="#fff" stroke="#1c1c1c" stroke-width="2"/>
<circle cx="279.64" cy="1271.6" r="5.6" fill="#fff" stroke="#1c1c1c" stroke-width="2"/>
<circle cx="301.7" cy="1272" r="5.6" fill="#fff" stroke="#1c1c1c" stroke-width="2"/>
<circle cx="81.1" cy="1266" r="6.8" fill="#1c1c1c"/>
<circle cx="103.16" cy="1266.5" r="6.8" fill="#1c1c1c"/>
<circle cx="125.22" cy="1260.3" r="6.8" fill="#1c1c1c"/>
<circle cx="147.28" cy="1264.9" r="6.8" fill="#1c1c1c"/>
<circle cx="169.34" cy="1261.2" r="6.8" fill="#1c1c1c"/>
<circle cx="191.4" cy="1264.9" r="6.8" fill="#1c1c1c"/>
<circle cx="235.52" cy="1274" r="6.8" fill="#1c1c1c"/>
<circle cx="257.58" cy="1264.9" r="6.8" fill="#1c1c1c"/>
<circle cx="279.64" cy="1262.4" r="6.8" fill="#1c1c1c"/>
<circle cx="301.7" cy="1264.3" r="6.8" fill="#1c1c1c"/>
<circle cx="81.1" cy="1272.7" r="5.6" fill="#fff" stroke="#e2232b" stroke-width="2.3"/>
<circle cx="103.16" cy="1271.4" r="5.6" fill="#fff" stroke="#e2232b" stroke-width="2.3"/>
<circle cx="125.22" cy="1270.2" r="5.6" fill="#fff" stroke="#e2232b" stroke-width="2.3"/>
<circle cx="147.28" cy="1273.5" r="5.6" fill="#fff" stroke="#e2232b" stroke-width="2.3"/>
<circle cx="169.34" cy="1274.1" r="5.6" fill="#fff" stroke="#e2232b" stroke-width="2.3"/>
<circle cx="191.4" cy="1282.4" r="5.6" fill="#fff" stroke="#e2232b" stroke-width="2.3"/>
<circle cx="213.46" cy="1278.7" r="5.6" fill="#fff" stroke="#e2232b" stroke-width="2.3"/>
<circle cx="235.52" cy="1278.1" r="5.6" fill="#fff" stroke="#e2232b" stroke-width="2.3"/>
<circle cx="257.58" cy="1278.1" r="5.6" fill="#fff" stroke="#e2232b" stroke-width="2.3"/>
<circle cx="279.64" cy="1279.3" r="5.6" fill="#fff" stroke="#e2232b" stroke-width="2.3"/>
<circle cx="301.7" cy="1282.4" r="5.6" fill="#fff" stroke="#e2232b" stroke-width="2.3"/>
<circle cx="81.1" cy="1259" r="6.8" fill="#e2232b"/>
<circle cx="103.16" cy="1259" r="6.8" fill="#e2232b"/>
<circle cx="125.22" cy="1252.8" r="6.8" fill="#e2232b"/>
<circle cx="147.28" cy="1246.5" r="6.8" fill="#e2232b"/>
<circle cx="169.34" cy="1250.2" r="6.8" fill="#e2232b"/>
<circle cx="191.4" cy="1239.7" r="6.8" fill="#e2232b"/>
<circle cx="213.46" cy="1233.6" r="6.8" fill="#e2232b"/>
<circle cx="235.52" cy="1223.5" r="6.8" fill="#e2232b"/>
<circle cx="257.58" cy="1214.3" r="6.8" fill="#e2232b"/>
<circle cx="279.64" cy="1211.2" r="6.8" fill="#e2232b"/>
<circle cx="301.7" cy="1202" r="6.8" fill="#e2232b"/>
<line x1="70.7" y1="1157.3" x2="70.7" y2="1304.5" stroke="#1c1c1c" stroke-width="2"/>
<line x1="69.7" y1="1303.5" x2="313" y2="1303.5" stroke="#1c1c1c" stroke-width="2"/>
<line x1="65.7" y1="1299.5" x2="70.7" y2="1299.5" stroke="#1c1c1c" stroke-width="1.8"/>
<text x="61" y="1306" font-size="18.5" text-anchor="end">0</text>
<line x1="65.7" y1="1252.1" x2="70.7" y2="1252.1" stroke="#1c1c1c" stroke-width="1.8"/>
<text x="61" y="1258.6" font-size="18.5" text-anchor="end">2.5</text>
<line x1="65.7" y1="1204.7" x2="70.7" y2="1204.7" stroke="#1c1c1c" stroke-width="1.8"/>
<text x="61" y="1211.2" font-size="18.5" text-anchor="end">5</text>
<line x1="65.7" y1="1157.3" x2="70.7" y2="1157.3" stroke="#1c1c1c" stroke-width="1.8"/>
<text x="61" y="1163.8" font-size="18.5" text-anchor="end">7.5</text>
<line x1="81.1" y1="1303.5" x2="81.1" y2="1308.1" stroke="#1c1c1c" stroke-width="1.8"/>
<text x="81.1" y="1326.5" font-size="18.5" text-anchor="middle">0</text>
<line x1="136.25" y1="1303.5" x2="136.25" y2="1308.1" stroke="#1c1c1c" stroke-width="1.8"/>
<text x="136.25" y="1326.5" font-size="18.5" text-anchor="middle">5</text>
<line x1="191.4" y1="1303.5" x2="191.4" y2="1308.1" stroke="#1c1c1c" stroke-width="1.8"/>
<text x="191.4" y="1326.5" font-size="18.5" text-anchor="middle">10</text>
<line x1="246.55" y1="1303.5" x2="246.55" y2="1308.1" stroke="#1c1c1c" stroke-width="1.8"/>
<text x="246.55" y="1326.5" font-size="18.5" text-anchor="middle">15</text>
<line x1="301.7" y1="1303.5" x2="301.7" y2="1308.1" stroke="#1c1c1c" stroke-width="1.8"/>
<text x="301.7" y="1326.5" font-size="18.5" text-anchor="middle">20</text>
<text x="194.4" y="1347.7" font-size="18.8" text-anchor="middle">Time (min)</text>
<text x="26" y="1229.3" font-size="18.5" text-anchor="middle" transform="rotate(-90 26 1229.3)">ATP (pmol cm<tspan font-size="11.1" dy="-6.66">−2</tspan><tspan dy="6.66">)</tspan></text>
<circle cx="85.6" cy="1147.9" r="7" fill="#e2232b"/>
<text x="98.5" y="1153.5" font-size="15.7" fill="#d62a33">High K (24)</text>
<circle cx="85.6" cy="1167.2" r="5.8" fill="#fff" stroke="#e2232b" stroke-width="2.3"/>
<text x="98.5" y="1172.8" font-size="15.7" fill="#d62a33">High K, RuR (32)</text>
<circle cx="85.6" cy="1187.1" r="7" fill="#1c1c1c"/>
<text x="98.5" y="1192.7" font-size="15.7">Normal K (8)</text>
<circle cx="85.6" cy="1205.7" r="5.8" fill="#fff" stroke="#1c1c1c" stroke-width="2.2"/>
<text x="98.5" y="1211.3" font-size="15.7">Normal K, RuR (16)</text>
</g>
<g id="pj">
<text x="368.8" y="1149.5" font-size="19.5" font-weight="bold" stroke="#1c1c1c" stroke-width="0.5">j</text>
<line x1="474.5" y1="1286.3" x2="474.5" y2="1300.3" stroke="#1c1c1c" stroke-width="1.6"/>
<line x1="470.5" y1="1300.3" x2="478.5" y2="1300.3" stroke="#1c1c1c" stroke-width="1.6"/>
<rect x="441.4" y="1281.9" width="66.2" height="4.4" fill="#545454" stroke="#1c1c1c" stroke-width="1.6"/>
<text x="473.5" y="1273.2" font-size="15.7" text-anchor="middle">(64)</text>
<text x="481.5" y="1310.3" font-size="18.3" text-anchor="end" transform="rotate(-90 481.5 1310.3)">HEP</text>
<line x1="555.1" y1="1273.7" x2="555.1" y2="1267.5" stroke="#1c1c1c" stroke-width="1.6"/>
<line x1="551.1" y1="1267.5" x2="559.1" y2="1267.5" stroke="#1c1c1c" stroke-width="1.6"/>
<rect x="522.4" y="1273.7" width="65.4" height="8.2" fill="#545454" stroke="#1c1c1c" stroke-width="1.6"/>
<text x="554.8" y="1262.1" font-size="15.7" text-anchor="middle">(64)</text>
<text x="562.1" y="1310.3" font-size="18.3" text-anchor="end" transform="rotate(-90 562.1 1310.3)">PROB</text>
<line x1="636" y1="1177.8" x2="636" y2="1174.8" stroke="#1c1c1c" stroke-width="1.6"/>
<line x1="632" y1="1174.8" x2="640" y2="1174.8" stroke="#1c1c1c" stroke-width="1.6"/>
<rect x="603.2" y="1177.8" width="65.6" height="104.1" fill="#545454" stroke="#1c1c1c" stroke-width="1.6"/>
<text x="636.4" y="1197.3" font-size="15.7" text-anchor="middle" fill="#fff">(32)</text>
<text x="644.3" y="1310.3" font-size="18.3" text-anchor="end" transform="rotate(-90 644.3 1310.3)">RuR</text>
<line x1="434.1" y1="1157.1" x2="434.1" y2="1303.9" stroke="#1c1c1c" stroke-width="2"/>
<line x1="434.1" y1="1281.9" x2="676.9" y2="1281.9" stroke="#1c1c1c" stroke-width="2"/>
<line x1="429.1" y1="1302.7" x2="434.1" y2="1302.7" stroke="#1c1c1c" stroke-width="1.8"/>
<text x="426.5" y="1309.2" font-size="18.5" text-anchor="end">−20</text>
<line x1="429.1" y1="1281.9" x2="434.1" y2="1281.9" stroke="#1c1c1c" stroke-width="1.8"/>
<text x="426.5" y="1288.4" font-size="18.5" text-anchor="end">0</text>
<line x1="429.1" y1="1261.1" x2="434.1" y2="1261.1" stroke="#1c1c1c" stroke-width="1.8"/>
<text x="426.5" y="1267.6" font-size="18.5" text-anchor="end">20</text>
<line x1="429.1" y1="1240.3" x2="434.1" y2="1240.3" stroke="#1c1c1c" stroke-width="1.8"/>
<text x="426.5" y="1246.8" font-size="18.5" text-anchor="end">40</text>
<line x1="429.1" y1="1219.5" x2="434.1" y2="1219.5" stroke="#1c1c1c" stroke-width="1.8"/>
<text x="426.5" y="1226" font-size="18.5" text-anchor="end">60</text>
<line x1="429.1" y1="1198.7" x2="434.1" y2="1198.7" stroke="#1c1c1c" stroke-width="1.8"/>
<text x="426.5" y="1205.2" font-size="18.5" text-anchor="end">80</text>
<line x1="429.1" y1="1177.9" x2="434.1" y2="1177.9" stroke="#1c1c1c" stroke-width="1.8"/>
<text x="426.5" y="1184.4" font-size="18.5" text-anchor="end">100</text>
<line x1="429.1" y1="1157.1" x2="434.1" y2="1157.1" stroke="#1c1c1c" stroke-width="1.8"/>
<text x="426.5" y="1163.6" font-size="18.5" text-anchor="end">120</text>
<text x="379.6" y="1228.5" font-size="19.5" text-anchor="middle" transform="rotate(-90 379.6 1228.5)">Inhibition (%)</text>
</g>
</g>
</svg></body></html>
